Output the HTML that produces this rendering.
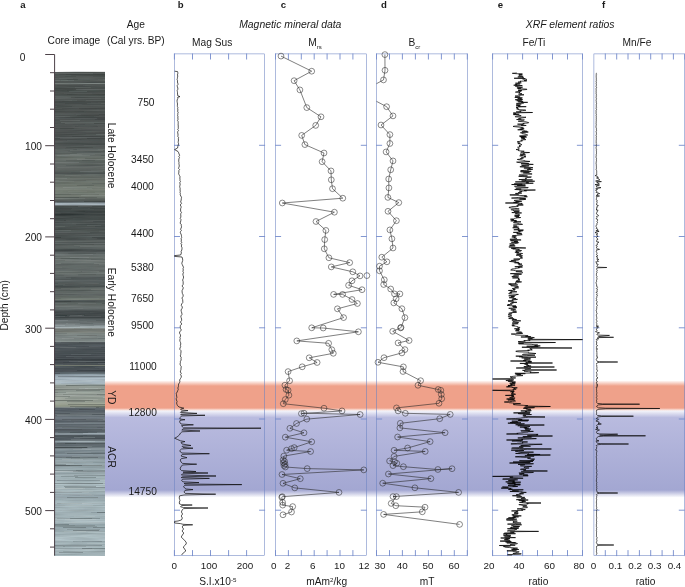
<!DOCTYPE html>
<html><head><meta charset="utf-8"><title>Figure</title>
<style>
html,body{margin:0;padding:0;background:#fff;}
body{width:685px;height:587px;overflow:hidden;}
svg{display:block;will-change:transform;}
text{font-family:"Liberation Sans",sans-serif;fill:#1a1a1a;}
</style></head><body>
<svg width="685" height="587" viewBox="0 0 685 587">
<defs>
<linearGradient id="gred" x1="0" y1="0" x2="0" y2="1">
<stop offset="0" stop-color="#efa18a" stop-opacity="0"/>
<stop offset="0.183" stop-color="#efa18a" stop-opacity="1"/>
<stop offset="0.902" stop-color="#efa18a" stop-opacity="1"/>
<stop offset="1" stop-color="#efa18a" stop-opacity="0"/>
</linearGradient>
<linearGradient id="gblue" x1="0" y1="0" x2="0" y2="1">
<stop offset="0" stop-color="#b9bbdf" stop-opacity="0"/>
<stop offset="0.090" stop-color="#b9bbdf" stop-opacity="1"/>
<stop offset="0.914" stop-color="#a3a7d2" stop-opacity="1"/>
<stop offset="1" stop-color="#a3a7d2" stop-opacity="0"/>
</linearGradient>
<filter id="streak" x="0" y="0" width="100%" height="100%">
<feTurbulence type="fractalNoise" baseFrequency="0.03 0.9" numOctaves="2" seed="3" result="n"/>
<feColorMatrix in="n" type="matrix" values="0 0 0 0 0  0 0 0 0 0  0 0 0 0 0  1.2 0 0 0 -0.35" result="a"/>
<feFlood flood-color="#20282a"/><feComposite in2="a" operator="in"/>
</filter>
<filter id="streakL" x="0" y="0" width="100%" height="100%">
<feTurbulence type="fractalNoise" baseFrequency="0.025 0.8" numOctaves="2" seed="11" result="n"/>
<feColorMatrix in="n" type="matrix" values="0 0 0 0 0  0 0 0 0 0  0 0 0 0 0  0 1.2 0 0 -0.4" result="a"/>
<feFlood flood-color="#c8d4d4"/><feComposite in2="a" operator="in"/>
</filter>
<clipPath id="cpd"><rect x="376.5" y="53.9" width="91.1" height="501.80000000000007"/></clipPath>
<clipPath id="cpe"><rect x="492.6" y="53.9" width="89.9" height="501.80000000000007"/></clipPath>
<clipPath id="cpb"><rect x="174.4" y="53.9" width="90.3" height="501.80000000000007"/></clipPath>
</defs>
<rect width="685" height="587" fill="#fff"/>

<rect x="104.6" y="380.4" width="580.4" height="30.6" fill="url(#gred)"/>
<rect x="104.6" y="409.6" width="580.4" height="88" fill="url(#gblue)"/>
<g shape-rendering="crispEdges">
<rect x="54.2" y="71.8" width="50.5" height="0.25" fill="#4c514f"/>
<rect x="54.2" y="72.0" width="50.5" height="1.05" fill="#4f5452"/>
<rect x="54.2" y="73.0" width="50.5" height="1.05" fill="#4d5250"/>
<rect x="54.2" y="74.0" width="50.5" height="1.05" fill="#4d5250"/>
<rect x="54.2" y="75.0" width="50.5" height="1.05" fill="#4b514e"/>
<rect x="54.2" y="76.0" width="50.5" height="1.05" fill="#4e5351"/>
<rect x="54.2" y="77.0" width="50.5" height="1.05" fill="#525855"/>
<rect x="54.2" y="78.0" width="50.5" height="1.05" fill="#505553"/>
<rect x="54.2" y="79.0" width="50.5" height="1.05" fill="#515755"/>
<rect x="54.2" y="80.0" width="50.5" height="1.05" fill="#4e5451"/>
<rect x="54.2" y="81.0" width="50.5" height="1.05" fill="#4f5452"/>
<rect x="54.2" y="82.0" width="50.5" height="1.05" fill="#4d5351"/>
<rect x="54.2" y="83.0" width="50.5" height="1.05" fill="#7b837f"/>
<rect x="54.2" y="84.0" width="50.5" height="1.05" fill="#505553"/>
<rect x="54.2" y="85.0" width="50.5" height="1.05" fill="#4e5351"/>
<rect x="54.2" y="86.0" width="50.5" height="1.05" fill="#4d5250"/>
<rect x="54.2" y="87.0" width="50.5" height="1.05" fill="#444a48"/>
<rect x="54.2" y="88.0" width="50.5" height="1.05" fill="#444947"/>
<rect x="54.2" y="89.0" width="50.5" height="1.05" fill="#464b49"/>
<rect x="54.2" y="90.0" width="50.5" height="1.05" fill="#474d4a"/>
<rect x="54.2" y="91.0" width="50.5" height="1.05" fill="#4a504e"/>
<rect x="54.2" y="92.0" width="50.5" height="1.05" fill="#4a4f4d"/>
<rect x="54.2" y="93.0" width="50.5" height="1.05" fill="#4c514f"/>
<rect x="54.2" y="94.0" width="50.5" height="1.05" fill="#484e4b"/>
<rect x="54.2" y="95.0" width="50.5" height="1.05" fill="#4c514f"/>
<rect x="54.2" y="96.0" width="50.5" height="1.05" fill="#545b58"/>
<rect x="54.2" y="97.0" width="50.5" height="1.05" fill="#484e4c"/>
<rect x="54.2" y="98.0" width="50.5" height="1.05" fill="#515654"/>
<rect x="54.2" y="99.0" width="50.5" height="1.05" fill="#4d5250"/>
<rect x="54.2" y="100.0" width="50.5" height="1.05" fill="#4f5452"/>
<rect x="54.2" y="101.0" width="50.5" height="1.05" fill="#494e4c"/>
<rect x="54.2" y="102.0" width="50.5" height="1.05" fill="#484d4b"/>
<rect x="54.2" y="103.0" width="50.5" height="1.05" fill="#4a4f4d"/>
<rect x="54.2" y="104.0" width="50.5" height="1.05" fill="#4a4f4e"/>
<rect x="54.2" y="105.0" width="50.5" height="1.05" fill="#4d5250"/>
<rect x="54.2" y="106.0" width="50.5" height="1.05" fill="#4c514f"/>
<rect x="54.2" y="107.0" width="50.5" height="1.05" fill="#494e4c"/>
<rect x="54.2" y="108.0" width="50.5" height="1.05" fill="#474c4a"/>
<rect x="54.2" y="109.0" width="50.5" height="1.05" fill="#494e4c"/>
<rect x="54.2" y="110.0" width="50.5" height="1.05" fill="#4f5452"/>
<rect x="54.2" y="111.0" width="50.5" height="1.05" fill="#484d4b"/>
<rect x="54.2" y="112.0" width="50.5" height="1.05" fill="#4c514f"/>
<rect x="54.2" y="113.0" width="50.5" height="1.05" fill="#4d5150"/>
<rect x="54.2" y="114.0" width="50.5" height="1.05" fill="#464b49"/>
<rect x="54.2" y="115.0" width="50.5" height="1.05" fill="#4c504f"/>
<rect x="54.2" y="116.0" width="50.5" height="1.05" fill="#505553"/>
<rect x="54.2" y="117.0" width="50.5" height="1.05" fill="#444948"/>
<rect x="54.2" y="118.0" width="50.5" height="1.05" fill="#4b4f4e"/>
<rect x="54.2" y="119.0" width="50.5" height="1.05" fill="#4c504f"/>
<rect x="54.2" y="120.0" width="50.5" height="1.05" fill="#494e4c"/>
<rect x="54.2" y="121.0" width="50.5" height="1.05" fill="#4e5351"/>
<rect x="54.2" y="122.0" width="50.5" height="1.05" fill="#4c514f"/>
<rect x="54.2" y="123.0" width="50.5" height="1.05" fill="#474c4a"/>
<rect x="54.2" y="124.0" width="50.5" height="1.05" fill="#505453"/>
<rect x="54.2" y="125.0" width="50.5" height="1.05" fill="#4f5452"/>
<rect x="54.2" y="126.0" width="50.5" height="1.05" fill="#515554"/>
<rect x="54.2" y="127.0" width="50.5" height="1.05" fill="#535756"/>
<rect x="54.2" y="128.0" width="50.5" height="1.05" fill="#4f5452"/>
<rect x="54.2" y="129.0" width="50.5" height="1.05" fill="#4f5352"/>
<rect x="54.2" y="130.0" width="50.5" height="1.05" fill="#4a4e4d"/>
<rect x="54.2" y="131.0" width="50.5" height="1.05" fill="#515654"/>
<rect x="54.2" y="132.0" width="50.5" height="1.05" fill="#4d5150"/>
<rect x="54.2" y="133.0" width="50.5" height="1.05" fill="#4e5251"/>
<rect x="54.2" y="134.0" width="50.5" height="1.05" fill="#4b504e"/>
<rect x="54.2" y="135.0" width="50.5" height="1.05" fill="#4b504f"/>
<rect x="54.2" y="136.0" width="50.5" height="1.05" fill="#4b504f"/>
<rect x="54.2" y="137.0" width="50.5" height="1.05" fill="#505554"/>
<rect x="54.2" y="138.0" width="50.5" height="1.05" fill="#434847"/>
<rect x="54.2" y="139.0" width="50.5" height="1.05" fill="#434847"/>
<rect x="54.2" y="140.0" width="50.5" height="1.05" fill="#4a4e4d"/>
<rect x="54.2" y="141.0" width="50.5" height="1.05" fill="#505554"/>
<rect x="54.2" y="142.0" width="50.5" height="1.05" fill="#4e5352"/>
<rect x="54.2" y="143.0" width="50.5" height="1.05" fill="#474d4b"/>
<rect x="54.2" y="144.0" width="50.5" height="1.05" fill="#474c4b"/>
<rect x="54.2" y="145.0" width="50.5" height="1.05" fill="#535857"/>
<rect x="54.2" y="146.0" width="50.5" height="1.05" fill="#505654"/>
<rect x="54.2" y="147.0" width="50.5" height="1.05" fill="#505654"/>
<rect x="54.2" y="148.0" width="50.5" height="1.05" fill="#595f5d"/>
<rect x="54.2" y="149.0" width="50.5" height="1.05" fill="#5b615f"/>
<rect x="54.2" y="150.0" width="50.5" height="1.05" fill="#595f5c"/>
<rect x="54.2" y="151.0" width="50.5" height="1.05" fill="#5a605e"/>
<rect x="54.2" y="152.0" width="50.5" height="1.05" fill="#5d6360"/>
<rect x="54.2" y="153.0" width="50.5" height="1.05" fill="#636a67"/>
<rect x="54.2" y="154.0" width="50.5" height="1.05" fill="#626965"/>
<rect x="54.2" y="155.0" width="50.5" height="1.05" fill="#646b67"/>
<rect x="54.2" y="156.0" width="50.5" height="1.05" fill="#676e69"/>
<rect x="54.2" y="157.0" width="50.5" height="1.05" fill="#626963"/>
<rect x="54.2" y="158.0" width="50.5" height="1.05" fill="#6c736d"/>
<rect x="54.2" y="159.0" width="50.5" height="1.05" fill="#6a706b"/>
<rect x="54.2" y="160.0" width="50.5" height="1.05" fill="#666d68"/>
<rect x="54.2" y="161.0" width="50.5" height="1.05" fill="#5b625e"/>
<rect x="54.2" y="162.0" width="50.5" height="1.05" fill="#5e6561"/>
<rect x="54.2" y="163.0" width="50.5" height="1.05" fill="#636966"/>
<rect x="54.2" y="164.0" width="50.5" height="1.05" fill="#585f5b"/>
<rect x="54.2" y="165.0" width="50.5" height="1.05" fill="#5d6461"/>
<rect x="54.2" y="166.0" width="50.5" height="1.05" fill="#616764"/>
<rect x="54.2" y="167.0" width="50.5" height="1.05" fill="#585e5b"/>
<rect x="54.2" y="168.0" width="50.5" height="1.05" fill="#626865"/>
<rect x="54.2" y="169.0" width="50.5" height="1.05" fill="#5d6360"/>
<rect x="54.2" y="170.0" width="50.5" height="1.05" fill="#585e5b"/>
<rect x="54.2" y="171.0" width="50.5" height="1.05" fill="#555c59"/>
<rect x="54.2" y="172.0" width="50.5" height="1.05" fill="#525856"/>
<rect x="54.2" y="173.0" width="50.5" height="1.05" fill="#4c5251"/>
<rect x="54.2" y="174.0" width="50.5" height="1.05" fill="#5e6561"/>
<rect x="54.2" y="175.0" width="50.5" height="1.05" fill="#616762"/>
<rect x="54.2" y="176.0" width="50.5" height="1.05" fill="#636964"/>
<rect x="54.2" y="177.0" width="50.5" height="1.05" fill="#69706a"/>
<rect x="54.2" y="178.0" width="50.5" height="1.05" fill="#676d67"/>
<rect x="54.2" y="179.0" width="50.5" height="1.05" fill="#656b65"/>
<rect x="54.2" y="180.0" width="50.5" height="1.05" fill="#6c736c"/>
<rect x="54.2" y="181.0" width="50.5" height="1.05" fill="#6f766f"/>
<rect x="54.2" y="182.0" width="50.5" height="1.05" fill="#6a7169"/>
<rect x="54.2" y="183.0" width="50.5" height="1.05" fill="#686f67"/>
<rect x="54.2" y="184.0" width="50.5" height="1.05" fill="#6e756d"/>
<rect x="54.2" y="185.0" width="50.5" height="1.05" fill="#70776e"/>
<rect x="54.2" y="186.0" width="50.5" height="1.05" fill="#71786f"/>
<rect x="54.2" y="187.0" width="50.5" height="1.05" fill="#787f76"/>
<rect x="54.2" y="188.0" width="50.5" height="1.05" fill="#71786f"/>
<rect x="54.2" y="189.0" width="50.5" height="1.05" fill="#7b8278"/>
<rect x="54.2" y="190.0" width="50.5" height="1.05" fill="#72796f"/>
<rect x="54.2" y="191.0" width="50.5" height="1.05" fill="#737b71"/>
<rect x="54.2" y="192.0" width="50.5" height="1.05" fill="#787f75"/>
<rect x="54.2" y="193.0" width="50.5" height="1.05" fill="#798077"/>
<rect x="54.2" y="194.0" width="50.5" height="1.05" fill="#777e75"/>
<rect x="54.2" y="195.0" width="50.5" height="1.05" fill="#757c73"/>
<rect x="54.2" y="196.0" width="50.5" height="1.05" fill="#737a72"/>
<rect x="54.2" y="197.0" width="50.5" height="1.05" fill="#6e756e"/>
<rect x="54.2" y="198.0" width="50.5" height="1.05" fill="#676d68"/>
<rect x="54.2" y="199.0" width="50.5" height="1.05" fill="#5b615d"/>
<rect x="54.2" y="200.0" width="50.5" height="1.05" fill="#515754"/>
<rect x="54.2" y="201.0" width="50.5" height="1.05" fill="#434948"/>
<rect x="54.2" y="202.0" width="50.5" height="1.05" fill="#768085"/>
<rect x="54.2" y="203.0" width="50.5" height="1.05" fill="#a6b3bc"/>
<rect x="54.2" y="204.0" width="50.5" height="1.05" fill="#adbac3"/>
<rect x="54.2" y="205.0" width="50.5" height="1.05" fill="#6e7678"/>
<rect x="54.2" y="206.0" width="50.5" height="1.05" fill="#474d4c"/>
<rect x="54.2" y="207.0" width="50.5" height="1.05" fill="#404746"/>
<rect x="54.2" y="208.0" width="50.5" height="1.05" fill="#3e4544"/>
<rect x="54.2" y="209.0" width="50.5" height="1.05" fill="#3f4544"/>
<rect x="54.2" y="210.0" width="50.5" height="1.05" fill="#424847"/>
<rect x="54.2" y="211.0" width="50.5" height="1.05" fill="#3c4342"/>
<rect x="54.2" y="212.0" width="50.5" height="1.05" fill="#3e4544"/>
<rect x="54.2" y="213.0" width="50.5" height="1.05" fill="#434948"/>
<rect x="54.2" y="214.0" width="50.5" height="1.05" fill="#323838"/>
<rect x="54.2" y="215.0" width="50.5" height="1.05" fill="#383e3d"/>
<rect x="54.2" y="216.0" width="50.5" height="1.05" fill="#3f4544"/>
<rect x="54.2" y="217.0" width="50.5" height="1.05" fill="#414746"/>
<rect x="54.2" y="218.0" width="50.5" height="1.05" fill="#424847"/>
<rect x="54.2" y="219.0" width="50.5" height="1.05" fill="#414847"/>
<rect x="54.2" y="220.0" width="50.5" height="1.05" fill="#474d4c"/>
<rect x="54.2" y="221.0" width="50.5" height="1.05" fill="#474d4d"/>
<rect x="54.2" y="222.0" width="50.5" height="1.05" fill="#464c4b"/>
<rect x="54.2" y="223.0" width="50.5" height="1.05" fill="#525857"/>
<rect x="54.2" y="224.0" width="50.5" height="1.05" fill="#4b5251"/>
<rect x="54.2" y="225.0" width="50.5" height="1.05" fill="#49504f"/>
<rect x="54.2" y="226.0" width="50.5" height="1.05" fill="#4c5351"/>
<rect x="54.2" y="227.0" width="50.5" height="1.05" fill="#4d5352"/>
<rect x="54.2" y="228.0" width="50.5" height="1.05" fill="#4f5554"/>
<rect x="54.2" y="229.0" width="50.5" height="1.05" fill="#474d4b"/>
<rect x="54.2" y="230.0" width="50.5" height="1.05" fill="#4f5553"/>
<rect x="54.2" y="231.0" width="50.5" height="1.05" fill="#525957"/>
<rect x="54.2" y="232.0" width="50.5" height="1.05" fill="#494f4e"/>
<rect x="54.2" y="233.0" width="50.5" height="1.05" fill="#4c5251"/>
<rect x="54.2" y="234.0" width="50.5" height="1.05" fill="#4e5453"/>
<rect x="54.2" y="235.0" width="50.5" height="1.05" fill="#4c5251"/>
<rect x="54.2" y="236.0" width="50.5" height="1.05" fill="#4b5251"/>
<rect x="54.2" y="237.0" width="50.5" height="1.05" fill="#3c4241"/>
<rect x="54.2" y="238.0" width="50.5" height="1.05" fill="#434948"/>
<rect x="54.2" y="239.0" width="50.5" height="1.05" fill="#4b5150"/>
<rect x="54.2" y="240.0" width="50.5" height="1.05" fill="#565d5b"/>
<rect x="54.2" y="241.0" width="50.5" height="1.05" fill="#5d6361"/>
<rect x="54.2" y="242.0" width="50.5" height="1.05" fill="#505755"/>
<rect x="54.2" y="243.0" width="50.5" height="1.05" fill="#5f6564"/>
<rect x="54.2" y="244.0" width="50.5" height="1.05" fill="#575e5c"/>
<rect x="54.2" y="245.0" width="50.5" height="1.05" fill="#606764"/>
<rect x="54.2" y="246.0" width="50.5" height="1.05" fill="#59605e"/>
<rect x="54.2" y="247.0" width="50.5" height="1.05" fill="#5b6260"/>
<rect x="54.2" y="248.0" width="50.5" height="1.05" fill="#555c5a"/>
<rect x="54.2" y="249.0" width="50.5" height="1.05" fill="#464d4c"/>
<rect x="54.2" y="250.0" width="50.5" height="1.05" fill="#3e4444"/>
<rect x="54.2" y="251.0" width="50.5" height="1.05" fill="#4d5353"/>
<rect x="54.2" y="252.0" width="50.5" height="1.05" fill="#575e5e"/>
<rect x="54.2" y="253.0" width="50.5" height="1.05" fill="#5b6261"/>
<rect x="54.2" y="254.0" width="50.5" height="1.05" fill="#656c6b"/>
<rect x="54.2" y="255.0" width="50.5" height="1.05" fill="#686f6d"/>
<rect x="54.2" y="256.0" width="50.5" height="1.05" fill="#666d6a"/>
<rect x="54.2" y="257.0" width="50.5" height="1.05" fill="#727976"/>
<rect x="54.2" y="258.0" width="50.5" height="1.05" fill="#656c69"/>
<rect x="54.2" y="259.0" width="50.5" height="1.05" fill="#6d7472"/>
<rect x="54.2" y="260.0" width="50.5" height="1.05" fill="#6a716e"/>
<rect x="54.2" y="261.0" width="50.5" height="1.05" fill="#6d7471"/>
<rect x="54.2" y="262.0" width="50.5" height="1.05" fill="#6f7673"/>
<rect x="54.2" y="263.0" width="50.5" height="1.05" fill="#6c7370"/>
<rect x="54.2" y="264.0" width="50.5" height="1.05" fill="#6c7370"/>
<rect x="54.2" y="265.0" width="50.5" height="1.05" fill="#626967"/>
<rect x="54.2" y="266.0" width="50.5" height="1.05" fill="#616865"/>
<rect x="54.2" y="267.0" width="50.5" height="1.05" fill="#676e6c"/>
<rect x="54.2" y="268.0" width="50.5" height="1.05" fill="#616866"/>
<rect x="54.2" y="269.0" width="50.5" height="1.05" fill="#616866"/>
<rect x="54.2" y="270.0" width="50.5" height="1.05" fill="#606765"/>
<rect x="54.2" y="271.0" width="50.5" height="1.05" fill="#6b726f"/>
<rect x="54.2" y="272.0" width="50.5" height="1.05" fill="#6a716e"/>
<rect x="54.2" y="273.0" width="50.5" height="1.05" fill="#6d7471"/>
<rect x="54.2" y="274.0" width="50.5" height="1.05" fill="#626967"/>
<rect x="54.2" y="275.0" width="50.5" height="1.05" fill="#616866"/>
<rect x="54.2" y="276.0" width="50.5" height="1.05" fill="#59605f"/>
<rect x="54.2" y="277.0" width="50.5" height="1.05" fill="#5b6262"/>
<rect x="54.2" y="278.0" width="50.5" height="1.05" fill="#5c6363"/>
<rect x="54.2" y="279.0" width="50.5" height="1.05" fill="#525959"/>
<rect x="54.2" y="280.0" width="50.5" height="1.05" fill="#5b6262"/>
<rect x="54.2" y="281.0" width="50.5" height="1.05" fill="#585f5f"/>
<rect x="54.2" y="282.0" width="50.5" height="1.05" fill="#545b5a"/>
<rect x="54.2" y="283.0" width="50.5" height="1.05" fill="#4d5453"/>
<rect x="54.2" y="284.0" width="50.5" height="1.05" fill="#59605f"/>
<rect x="54.2" y="285.0" width="50.5" height="1.05" fill="#4f5655"/>
<rect x="54.2" y="286.0" width="50.5" height="1.05" fill="#444b4b"/>
<rect x="54.2" y="287.0" width="50.5" height="1.05" fill="#505755"/>
<rect x="54.2" y="288.0" width="50.5" height="1.05" fill="#585f5c"/>
<rect x="54.2" y="289.0" width="50.5" height="1.05" fill="#606764"/>
<rect x="54.2" y="290.0" width="50.5" height="1.05" fill="#575e5b"/>
<rect x="54.2" y="291.0" width="50.5" height="1.05" fill="#5f6663"/>
<rect x="54.2" y="292.0" width="50.5" height="1.05" fill="#616865"/>
<rect x="54.2" y="293.0" width="50.5" height="1.05" fill="#616865"/>
<rect x="54.2" y="294.0" width="50.5" height="1.05" fill="#5b6260"/>
<rect x="54.2" y="295.0" width="50.5" height="1.05" fill="#5c6360"/>
<rect x="54.2" y="296.0" width="50.5" height="1.05" fill="#676e69"/>
<rect x="54.2" y="297.0" width="50.5" height="1.05" fill="#686f6a"/>
<rect x="54.2" y="298.0" width="50.5" height="1.05" fill="#6c746d"/>
<rect x="54.2" y="299.0" width="50.5" height="1.05" fill="#767d75"/>
<rect x="54.2" y="300.0" width="50.5" height="1.05" fill="#555c5c"/>
<rect x="54.2" y="301.0" width="50.5" height="1.05" fill="#4f5655"/>
<rect x="54.2" y="302.0" width="50.5" height="1.05" fill="#575e5c"/>
<rect x="54.2" y="303.0" width="50.5" height="1.05" fill="#535a57"/>
<rect x="54.2" y="304.0" width="50.5" height="1.05" fill="#606764"/>
<rect x="54.2" y="305.0" width="50.5" height="1.05" fill="#656c69"/>
<rect x="54.2" y="306.0" width="50.5" height="1.05" fill="#686f6d"/>
<rect x="54.2" y="307.0" width="50.5" height="1.05" fill="#69706f"/>
<rect x="54.2" y="308.0" width="50.5" height="1.05" fill="#656c6b"/>
<rect x="54.2" y="309.0" width="50.5" height="1.05" fill="#5b6262"/>
<rect x="54.2" y="310.0" width="50.5" height="1.05" fill="#4e5455"/>
<rect x="54.2" y="311.0" width="50.5" height="1.05" fill="#404647"/>
<rect x="54.2" y="312.0" width="50.5" height="1.05" fill="#43494a"/>
<rect x="54.2" y="313.0" width="50.5" height="1.05" fill="#43494b"/>
<rect x="54.2" y="314.0" width="50.5" height="1.05" fill="#43494a"/>
<rect x="54.2" y="315.0" width="50.5" height="1.05" fill="#394041"/>
<rect x="54.2" y="316.0" width="50.5" height="1.05" fill="#42484a"/>
<rect x="54.2" y="317.0" width="50.5" height="1.05" fill="#3f4647"/>
<rect x="54.2" y="318.0" width="50.5" height="1.05" fill="#495051"/>
<rect x="54.2" y="319.0" width="50.5" height="1.05" fill="#585f61"/>
<rect x="54.2" y="320.0" width="50.5" height="1.05" fill="#6d7476"/>
<rect x="54.2" y="321.0" width="50.5" height="1.05" fill="#676e6f"/>
<rect x="54.2" y="322.0" width="50.5" height="1.05" fill="#6d7475"/>
<rect x="54.2" y="323.0" width="50.5" height="1.05" fill="#6e7576"/>
<rect x="54.2" y="324.0" width="50.5" height="1.05" fill="#798183"/>
<rect x="54.2" y="325.0" width="50.5" height="1.05" fill="#8a9496"/>
<rect x="54.2" y="326.0" width="50.5" height="1.05" fill="#9ba5a9"/>
<rect x="54.2" y="327.0" width="50.5" height="1.05" fill="#a9b4b7"/>
<rect x="54.2" y="328.0" width="50.5" height="1.05" fill="#838a87"/>
<rect x="54.2" y="329.0" width="50.5" height="1.05" fill="#737772"/>
<rect x="54.2" y="330.0" width="50.5" height="1.05" fill="#70746e"/>
<rect x="54.2" y="331.0" width="50.5" height="1.05" fill="#737771"/>
<rect x="54.2" y="332.0" width="50.5" height="1.05" fill="#818781"/>
<rect x="54.2" y="333.0" width="50.5" height="1.05" fill="#838b87"/>
<rect x="54.2" y="334.0" width="50.5" height="1.05" fill="#808986"/>
<rect x="54.2" y="335.0" width="50.5" height="1.05" fill="#78807e"/>
<rect x="54.2" y="336.0" width="50.5" height="1.05" fill="#7d8684"/>
<rect x="54.2" y="337.0" width="50.5" height="1.05" fill="#848d8b"/>
<rect x="54.2" y="338.0" width="50.5" height="1.05" fill="#848c8b"/>
<rect x="54.2" y="339.0" width="50.5" height="1.05" fill="#7f8886"/>
<rect x="54.2" y="340.0" width="50.5" height="1.05" fill="#808987"/>
<rect x="54.2" y="341.0" width="50.5" height="1.05" fill="#8a9391"/>
<rect x="54.2" y="342.0" width="50.5" height="1.05" fill="#4f5458"/>
<rect x="54.2" y="343.0" width="50.5" height="1.05" fill="#4a5155"/>
<rect x="54.2" y="344.0" width="50.5" height="1.05" fill="#4b5256"/>
<rect x="54.2" y="345.0" width="50.5" height="1.05" fill="#4f565b"/>
<rect x="54.2" y="346.0" width="50.5" height="1.05" fill="#495055"/>
<rect x="54.2" y="347.0" width="50.5" height="1.05" fill="#484f53"/>
<rect x="54.2" y="348.0" width="50.5" height="1.05" fill="#484f54"/>
<rect x="54.2" y="349.0" width="50.5" height="1.05" fill="#454c51"/>
<rect x="54.2" y="350.0" width="50.5" height="1.05" fill="#4a5155"/>
<rect x="54.2" y="351.0" width="50.5" height="1.05" fill="#464d51"/>
<rect x="54.2" y="352.0" width="50.5" height="1.05" fill="#4b5256"/>
<rect x="54.2" y="353.0" width="50.5" height="1.05" fill="#40474b"/>
<rect x="54.2" y="354.0" width="50.5" height="1.05" fill="#484f54"/>
<rect x="54.2" y="355.0" width="50.5" height="1.05" fill="#444a4f"/>
<rect x="54.2" y="356.0" width="50.5" height="1.05" fill="#3e4549"/>
<rect x="54.2" y="357.0" width="50.5" height="1.05" fill="#474d52"/>
<rect x="54.2" y="358.0" width="50.5" height="1.05" fill="#40474b"/>
<rect x="54.2" y="359.0" width="50.5" height="1.05" fill="#353b3f"/>
<rect x="54.2" y="360.0" width="50.5" height="1.05" fill="#3a4044"/>
<rect x="54.2" y="361.0" width="50.5" height="1.05" fill="#444a4f"/>
<rect x="54.2" y="362.0" width="50.5" height="1.05" fill="#454b50"/>
<rect x="54.2" y="363.0" width="50.5" height="1.05" fill="#4b5155"/>
<rect x="54.2" y="364.0" width="50.5" height="1.05" fill="#4c5256"/>
<rect x="54.2" y="365.0" width="50.5" height="1.05" fill="#777c71"/>
<rect x="54.2" y="366.0" width="50.5" height="1.05" fill="#4a5257"/>
<rect x="54.2" y="367.0" width="50.5" height="1.05" fill="#4d5459"/>
<rect x="54.2" y="368.0" width="50.5" height="1.05" fill="#495055"/>
<rect x="54.2" y="369.0" width="50.5" height="1.05" fill="#474e53"/>
<rect x="54.2" y="370.0" width="50.5" height="1.05" fill="#3d4349"/>
<rect x="54.2" y="371.0" width="50.5" height="1.05" fill="#4d5459"/>
<rect x="54.2" y="372.0" width="50.5" height="1.05" fill="#586269"/>
<rect x="54.2" y="373.0" width="50.5" height="1.05" fill="#5e6a70"/>
<rect x="54.2" y="374.0" width="50.5" height="1.05" fill="#8d9ca6"/>
<rect x="54.2" y="375.0" width="50.5" height="1.05" fill="#9faeb8"/>
<rect x="54.2" y="376.0" width="50.5" height="1.05" fill="#9baab5"/>
<rect x="54.2" y="377.0" width="50.5" height="1.05" fill="#a7b7c1"/>
<rect x="54.2" y="378.0" width="50.5" height="1.05" fill="#b3c2cc"/>
<rect x="54.2" y="379.0" width="50.5" height="1.05" fill="#a9b9c3"/>
<rect x="54.2" y="380.0" width="50.5" height="1.05" fill="#b0bfc9"/>
<rect x="54.2" y="381.0" width="50.5" height="1.05" fill="#b4c4ce"/>
<rect x="54.2" y="382.0" width="50.5" height="1.05" fill="#aebdc7"/>
<rect x="54.2" y="383.0" width="50.5" height="1.05" fill="#adbcc4"/>
<rect x="54.2" y="384.0" width="50.5" height="1.05" fill="#a4b0b1"/>
<rect x="54.2" y="385.0" width="50.5" height="1.05" fill="#96a09b"/>
<rect x="54.2" y="386.0" width="50.5" height="1.05" fill="#969e97"/>
<rect x="54.2" y="387.0" width="50.5" height="1.05" fill="#969e97"/>
<rect x="54.2" y="388.0" width="50.5" height="1.05" fill="#98a099"/>
<rect x="54.2" y="389.0" width="50.5" height="1.05" fill="#949c95"/>
<rect x="54.2" y="390.0" width="50.5" height="1.05" fill="#929b94"/>
<rect x="54.2" y="391.0" width="50.5" height="1.05" fill="#919a93"/>
<rect x="54.2" y="392.0" width="50.5" height="1.05" fill="#99a199"/>
<rect x="54.2" y="393.0" width="50.5" height="1.05" fill="#a0a8a0"/>
<rect x="54.2" y="394.0" width="50.5" height="1.05" fill="#9ea69e"/>
<rect x="54.2" y="395.0" width="50.5" height="1.05" fill="#9ca39b"/>
<rect x="54.2" y="396.0" width="50.5" height="1.05" fill="#9da49b"/>
<rect x="54.2" y="397.0" width="50.5" height="1.05" fill="#a8b0a6"/>
<rect x="54.2" y="398.0" width="50.5" height="1.05" fill="#a0a79d"/>
<rect x="54.2" y="399.0" width="50.5" height="1.05" fill="#9ba298"/>
<rect x="54.2" y="400.0" width="50.5" height="1.05" fill="#91988d"/>
<rect x="54.2" y="401.0" width="50.5" height="1.05" fill="#9ea599"/>
<rect x="54.2" y="402.0" width="50.5" height="1.05" fill="#9fa699"/>
<rect x="54.2" y="403.0" width="50.5" height="1.05" fill="#a3aa9b"/>
<rect x="54.2" y="404.0" width="50.5" height="1.05" fill="#9ca392"/>
<rect x="54.2" y="405.0" width="50.5" height="1.05" fill="#989e8c"/>
<rect x="54.2" y="406.0" width="50.5" height="1.05" fill="#8c9385"/>
<rect x="54.2" y="407.0" width="50.5" height="1.05" fill="#68706e"/>
<rect x="54.2" y="408.0" width="50.5" height="1.05" fill="#5b646b"/>
<rect x="54.2" y="409.0" width="50.5" height="1.05" fill="#596169"/>
<rect x="54.2" y="410.0" width="50.5" height="1.05" fill="#555e65"/>
<rect x="54.2" y="411.0" width="50.5" height="1.05" fill="#5d656c"/>
<rect x="54.2" y="412.0" width="50.5" height="1.05" fill="#5f686e"/>
<rect x="54.2" y="413.0" width="50.5" height="1.05" fill="#555d63"/>
<rect x="54.2" y="414.0" width="50.5" height="1.05" fill="#586167"/>
<rect x="54.2" y="415.0" width="50.5" height="1.05" fill="#5d656c"/>
<rect x="54.2" y="416.0" width="50.5" height="1.05" fill="#656e75"/>
<rect x="54.2" y="417.0" width="50.5" height="1.05" fill="#737d85"/>
<rect x="54.2" y="418.0" width="50.5" height="1.05" fill="#707981"/>
<rect x="54.2" y="419.0" width="50.5" height="1.05" fill="#687078"/>
<rect x="54.2" y="420.0" width="50.5" height="1.05" fill="#626a71"/>
<rect x="54.2" y="421.0" width="50.5" height="1.05" fill="#586067"/>
<rect x="54.2" y="422.0" width="50.5" height="1.05" fill="#646e75"/>
<rect x="54.2" y="423.0" width="50.5" height="1.05" fill="#747e85"/>
<rect x="54.2" y="424.0" width="50.5" height="1.05" fill="#5f686f"/>
<rect x="54.2" y="425.0" width="50.5" height="1.05" fill="#636c73"/>
<rect x="54.2" y="426.0" width="50.5" height="1.05" fill="#616a71"/>
<rect x="54.2" y="427.0" width="50.5" height="1.05" fill="#606970"/>
<rect x="54.2" y="428.0" width="50.5" height="1.05" fill="#6d767e"/>
<rect x="54.2" y="429.0" width="50.5" height="1.05" fill="#606970"/>
<rect x="54.2" y="430.0" width="50.5" height="1.05" fill="#545c62"/>
<rect x="54.2" y="431.0" width="50.5" height="1.05" fill="#586168"/>
<rect x="54.2" y="432.0" width="50.5" height="1.05" fill="#707a81"/>
<rect x="54.2" y="433.0" width="50.5" height="1.05" fill="#9facb4"/>
<rect x="54.2" y="434.0" width="50.5" height="1.05" fill="#848f97"/>
<rect x="54.2" y="435.0" width="50.5" height="1.05" fill="#535c62"/>
<rect x="54.2" y="436.0" width="50.5" height="1.05" fill="#525a60"/>
<rect x="54.2" y="437.0" width="50.5" height="1.05" fill="#515a60"/>
<rect x="54.2" y="438.0" width="50.5" height="1.05" fill="#515960"/>
<rect x="54.2" y="439.0" width="50.5" height="1.05" fill="#525b61"/>
<rect x="54.2" y="440.0" width="50.5" height="1.05" fill="#6c767c"/>
<rect x="54.2" y="441.0" width="50.5" height="1.05" fill="#98a6ad"/>
<rect x="54.2" y="442.0" width="50.5" height="1.05" fill="#7e8990"/>
<rect x="54.2" y="443.0" width="50.5" height="1.05" fill="#646e74"/>
<rect x="54.2" y="444.0" width="50.5" height="1.05" fill="#636d73"/>
<rect x="54.2" y="445.0" width="50.5" height="1.05" fill="#5f696f"/>
<rect x="54.2" y="446.0" width="50.5" height="1.05" fill="#646f75"/>
<rect x="54.2" y="447.0" width="50.5" height="1.05" fill="#717c82"/>
<rect x="54.2" y="448.0" width="50.5" height="1.05" fill="#879399"/>
<rect x="54.2" y="449.0" width="50.5" height="1.05" fill="#8c999f"/>
<rect x="54.2" y="450.0" width="50.5" height="1.05" fill="#7f8d94"/>
<rect x="54.2" y="451.0" width="50.5" height="1.05" fill="#7f8c93"/>
<rect x="54.2" y="452.0" width="50.5" height="1.05" fill="#7b888f"/>
<rect x="54.2" y="453.0" width="50.5" height="1.05" fill="#7b888f"/>
<rect x="54.2" y="454.0" width="50.5" height="1.05" fill="#829098"/>
<rect x="54.2" y="455.0" width="50.5" height="1.05" fill="#87949c"/>
<rect x="54.2" y="456.0" width="50.5" height="1.05" fill="#7c8990"/>
<rect x="54.2" y="457.0" width="50.5" height="1.05" fill="#7c8a90"/>
<rect x="54.2" y="458.0" width="50.5" height="1.05" fill="#909fa4"/>
<rect x="54.2" y="459.0" width="50.5" height="1.05" fill="#94a3a8"/>
<rect x="54.2" y="460.0" width="50.5" height="1.05" fill="#9cabb1"/>
<rect x="54.2" y="461.0" width="50.5" height="1.05" fill="#97a7ac"/>
<rect x="54.2" y="462.0" width="50.5" height="1.05" fill="#94a4a9"/>
<rect x="54.2" y="463.0" width="50.5" height="1.05" fill="#98a8ae"/>
<rect x="54.2" y="464.0" width="50.5" height="1.05" fill="#9eaeb3"/>
<rect x="54.2" y="465.0" width="50.5" height="1.05" fill="#93a2a7"/>
<rect x="54.2" y="466.0" width="50.5" height="1.05" fill="#909fa4"/>
<rect x="54.2" y="467.0" width="50.5" height="1.05" fill="#97a7ac"/>
<rect x="54.2" y="468.0" width="50.5" height="1.05" fill="#a1b1b7"/>
<rect x="54.2" y="469.0" width="50.5" height="1.05" fill="#a3b4b9"/>
<rect x="54.2" y="470.0" width="50.5" height="1.05" fill="#a1b1b6"/>
<rect x="54.2" y="471.0" width="50.5" height="1.05" fill="#a5b5ba"/>
<rect x="54.2" y="472.0" width="50.5" height="1.05" fill="#a1b1b6"/>
<rect x="54.2" y="473.0" width="50.5" height="1.05" fill="#9dadb2"/>
<rect x="54.2" y="474.0" width="50.5" height="1.05" fill="#a0b0b5"/>
<rect x="54.2" y="475.0" width="50.5" height="1.05" fill="#a7b7bc"/>
<rect x="54.2" y="476.0" width="50.5" height="1.05" fill="#a7b8bd"/>
<rect x="54.2" y="477.0" width="50.5" height="1.05" fill="#aabbc0"/>
<rect x="54.2" y="478.0" width="50.5" height="1.05" fill="#a5b6bb"/>
<rect x="54.2" y="479.0" width="50.5" height="1.05" fill="#a9babf"/>
<rect x="54.2" y="480.0" width="50.5" height="1.05" fill="#adbec4"/>
<rect x="54.2" y="481.0" width="50.5" height="1.05" fill="#abbcc1"/>
<rect x="54.2" y="482.0" width="50.5" height="1.05" fill="#b1c2c7"/>
<rect x="54.2" y="483.0" width="50.5" height="1.05" fill="#b0c1c6"/>
<rect x="54.2" y="484.0" width="50.5" height="1.05" fill="#b1c2c7"/>
<rect x="54.2" y="485.0" width="50.5" height="1.05" fill="#acbdc2"/>
<rect x="54.2" y="486.0" width="50.5" height="1.05" fill="#b4c5ca"/>
<rect x="54.2" y="487.0" width="50.5" height="1.05" fill="#aebfc4"/>
<rect x="54.2" y="488.0" width="50.5" height="1.05" fill="#a8b9be"/>
<rect x="54.2" y="489.0" width="50.5" height="1.05" fill="#a7b8bd"/>
<rect x="54.2" y="490.0" width="50.5" height="1.05" fill="#afc0c5"/>
<rect x="54.2" y="491.0" width="50.5" height="1.05" fill="#a3b3b9"/>
<rect x="54.2" y="492.0" width="50.5" height="1.05" fill="#a5b6bc"/>
<rect x="54.2" y="493.0" width="50.5" height="1.05" fill="#a4b5bb"/>
<rect x="54.2" y="494.0" width="50.5" height="1.05" fill="#9fafb6"/>
<rect x="54.2" y="495.0" width="50.5" height="1.05" fill="#99a9b0"/>
<rect x="54.2" y="496.0" width="50.5" height="1.05" fill="#9babb2"/>
<rect x="54.2" y="497.0" width="50.5" height="1.05" fill="#99a9b0"/>
<rect x="54.2" y="498.0" width="50.5" height="1.05" fill="#9dadb4"/>
<rect x="54.2" y="499.0" width="50.5" height="1.05" fill="#a1b2b8"/>
<rect x="54.2" y="500.0" width="50.5" height="1.05" fill="#a4b5ba"/>
<rect x="54.2" y="501.0" width="50.5" height="1.05" fill="#aabbc0"/>
<rect x="54.2" y="502.0" width="50.5" height="1.05" fill="#aabbc0"/>
<rect x="54.2" y="503.0" width="50.5" height="1.05" fill="#a9babf"/>
<rect x="54.2" y="504.0" width="50.5" height="1.05" fill="#a9bac0"/>
<rect x="54.2" y="505.0" width="50.5" height="1.05" fill="#a9babf"/>
<rect x="54.2" y="506.0" width="50.5" height="1.05" fill="#adbec4"/>
<rect x="54.2" y="507.0" width="50.5" height="1.05" fill="#a8b9be"/>
<rect x="54.2" y="508.0" width="50.5" height="1.05" fill="#aabbc0"/>
<rect x="54.2" y="509.0" width="50.5" height="1.05" fill="#abbcc2"/>
<rect x="54.2" y="510.0" width="50.5" height="1.05" fill="#a6b7bc"/>
<rect x="54.2" y="511.0" width="50.5" height="1.05" fill="#a9babf"/>
<rect x="54.2" y="512.0" width="50.5" height="1.05" fill="#a2b3b9"/>
<rect x="54.2" y="513.0" width="50.5" height="1.05" fill="#a7b8bd"/>
<rect x="54.2" y="514.0" width="50.5" height="1.05" fill="#abbcc1"/>
<rect x="54.2" y="515.0" width="50.5" height="1.05" fill="#abbcc1"/>
<rect x="54.2" y="516.0" width="50.5" height="1.05" fill="#a9babf"/>
<rect x="54.2" y="517.0" width="50.5" height="1.05" fill="#aabbc0"/>
<rect x="54.2" y="518.0" width="50.5" height="1.05" fill="#a6b7bc"/>
<rect x="54.2" y="519.0" width="50.5" height="1.05" fill="#b3c4c9"/>
<rect x="54.2" y="520.0" width="50.5" height="1.05" fill="#afc0c5"/>
<rect x="54.2" y="521.0" width="50.5" height="1.05" fill="#b2c3c8"/>
<rect x="54.2" y="522.0" width="50.5" height="1.05" fill="#a9babf"/>
<rect x="54.2" y="523.0" width="50.5" height="1.05" fill="#a7b8bd"/>
<rect x="54.2" y="524.0" width="50.5" height="1.05" fill="#9cadb3"/>
<rect x="54.2" y="525.0" width="50.5" height="1.05" fill="#a1b2b7"/>
<rect x="54.2" y="526.0" width="50.5" height="1.05" fill="#a0b1b6"/>
<rect x="54.2" y="527.0" width="50.5" height="1.05" fill="#97a8ae"/>
<rect x="54.2" y="528.0" width="50.5" height="1.05" fill="#9fb0b6"/>
<rect x="54.2" y="529.0" width="50.5" height="1.05" fill="#a4b5ba"/>
<rect x="54.2" y="530.0" width="50.5" height="1.05" fill="#9eafb5"/>
<rect x="54.2" y="531.0" width="50.5" height="1.05" fill="#a1b2b7"/>
<rect x="54.2" y="532.0" width="50.5" height="1.05" fill="#a7b8bd"/>
<rect x="54.2" y="533.0" width="50.5" height="1.05" fill="#aabbc0"/>
<rect x="54.2" y="534.0" width="50.5" height="1.05" fill="#a8b9be"/>
<rect x="54.2" y="535.0" width="50.5" height="1.05" fill="#aebfc4"/>
<rect x="54.2" y="536.0" width="50.5" height="1.05" fill="#afc0c5"/>
<rect x="54.2" y="537.0" width="50.5" height="1.05" fill="#b1c2c7"/>
<rect x="54.2" y="538.0" width="50.5" height="1.05" fill="#b2c3c8"/>
<rect x="54.2" y="539.0" width="50.5" height="1.05" fill="#b5c6cc"/>
<rect x="54.2" y="540.0" width="50.5" height="1.05" fill="#b4c5ca"/>
<rect x="54.2" y="541.0" width="50.5" height="1.05" fill="#a9babf"/>
<rect x="54.2" y="542.0" width="50.5" height="1.05" fill="#aabbc0"/>
<rect x="54.2" y="543.0" width="50.5" height="1.05" fill="#a7b8bd"/>
<rect x="54.2" y="544.0" width="50.5" height="1.05" fill="#a5b6bb"/>
<rect x="54.2" y="545.0" width="50.5" height="1.05" fill="#a7b8bd"/>
<rect x="54.2" y="546.0" width="50.5" height="1.05" fill="#a7b8bd"/>
<rect x="54.2" y="547.0" width="50.5" height="1.05" fill="#abbcc1"/>
<rect x="54.2" y="548.0" width="50.5" height="1.05" fill="#a6b7bc"/>
<rect x="54.2" y="549.0" width="50.5" height="1.05" fill="#a9babf"/>
<rect x="54.2" y="550.0" width="50.5" height="1.05" fill="#aebfc4"/>
<rect x="54.2" y="551.0" width="50.5" height="1.05" fill="#acbdc2"/>
<rect x="54.2" y="552.0" width="50.5" height="1.05" fill="#abbcc1"/>
<rect x="54.2" y="553.0" width="50.5" height="1.05" fill="#aabbc0"/>
<rect x="54.2" y="554.0" width="50.5" height="1.05" fill="#a7b8bd"/>
<rect x="54.2" y="555.0" width="50.5" height="0.65" fill="#abbcc1"/>
</g>
<g shape-rendering="crispEdges">
<rect x="54.2" y="446" width="38.0" height="1" fill="#d4dcda" opacity="0.13"/>
<rect x="64.7" y="505" width="27.8" height="1" fill="#d4dcda" opacity="0.18"/>
<rect x="54.2" y="388" width="33.5" height="1" fill="#d4dcda" opacity="0.11"/>
<rect x="54.2" y="406" width="39.8" height="1" fill="#d4dcda" opacity="0.06"/>
<rect x="82.1" y="104" width="22.6" height="1" fill="#1e2424" opacity="0.08"/>
<rect x="68.0" y="323" width="24.5" height="1" fill="#1e2424" opacity="0.11"/>
<rect x="55.6" y="133" width="49.1" height="1" fill="#1e2424" opacity="0.06"/>
<rect x="69.8" y="315" width="14.6" height="1" fill="#d4dcda" opacity="0.12"/>
<rect x="54.2" y="303" width="47.8" height="1" fill="#d4dcda" opacity="0.11"/>
<rect x="54.2" y="111" width="30.0" height="1" fill="#1e2424" opacity="0.16"/>
<rect x="66.2" y="140" width="35.7" height="1" fill="#1e2424" opacity="0.07"/>
<rect x="87.4" y="259" width="17.3" height="1" fill="#1e2424" opacity="0.06"/>
<rect x="59.4" y="74" width="45.3" height="1" fill="#1e2424" opacity="0.13"/>
<rect x="58.1" y="286" width="26.4" height="1" fill="#d4dcda" opacity="0.03"/>
<rect x="61.9" y="457" width="26.2" height="1" fill="#d4dcda" opacity="0.09"/>
<rect x="54.2" y="79" width="43.4" height="1" fill="#1e2424" opacity="0.10"/>
<rect x="56.9" y="518" width="35.2" height="1" fill="#1e2424" opacity="0.16"/>
<rect x="54.2" y="97" width="16.5" height="1" fill="#d4dcda" opacity="0.09"/>
<rect x="56.8" y="149" width="23.0" height="1" fill="#1e2424" opacity="0.08"/>
<rect x="56.3" y="264" width="42.3" height="1" fill="#1e2424" opacity="0.14"/>
<rect x="66.4" y="277" width="38.3" height="1" fill="#1e2424" opacity="0.13"/>
<rect x="54.2" y="98" width="47.0" height="1" fill="#d4dcda" opacity="0.05"/>
<rect x="54.2" y="518" width="16.6" height="1" fill="#d4dcda" opacity="0.08"/>
<rect x="55.9" y="314" width="28.9" height="1" fill="#1e2424" opacity="0.14"/>
<rect x="75.1" y="407" width="23.4" height="1" fill="#1e2424" opacity="0.21"/>
<rect x="77.8" y="274" width="18.3" height="1" fill="#1e2424" opacity="0.11"/>
<rect x="54.2" y="488" width="30.4" height="1" fill="#d4dcda" opacity="0.22"/>
<rect x="66.7" y="303" width="29.4" height="1" fill="#1e2424" opacity="0.07"/>
<rect x="56.9" y="357" width="17.3" height="1" fill="#1e2424" opacity="0.12"/>
<rect x="92.8" y="527" width="11.9" height="1" fill="#1e2424" opacity="0.25"/>
<rect x="58.7" y="180" width="27.6" height="1" fill="#1e2424" opacity="0.09"/>
<rect x="70.4" y="257" width="18.5" height="1" fill="#d4dcda" opacity="0.11"/>
<rect x="91.9" y="183" width="12.8" height="1" fill="#1e2424" opacity="0.13"/>
<rect x="63.0" y="294" width="41.7" height="1" fill="#d4dcda" opacity="0.03"/>
<rect x="75.7" y="89" width="29.0" height="1" fill="#d4dcda" opacity="0.12"/>
<rect x="66.3" y="323" width="14.0" height="1" fill="#d4dcda" opacity="0.11"/>
<rect x="62.0" y="510" width="30.9" height="1" fill="#d4dcda" opacity="0.10"/>
<rect x="69.9" y="150" width="32.8" height="1" fill="#d4dcda" opacity="0.10"/>
<rect x="67.5" y="404" width="37.2" height="1" fill="#1e2424" opacity="0.26"/>
<rect x="54.2" y="73" width="38.8" height="1" fill="#d4dcda" opacity="0.09"/>
<rect x="57.9" y="228" width="46.8" height="1" fill="#1e2424" opacity="0.10"/>
<rect x="54.2" y="464" width="11.7" height="1" fill="#1e2424" opacity="0.22"/>
<rect x="81.4" y="271" width="23.3" height="1" fill="#1e2424" opacity="0.11"/>
<rect x="58.9" y="308" width="24.0" height="1" fill="#d4dcda" opacity="0.05"/>
<rect x="56.1" y="342" width="22.5" height="1" fill="#d4dcda" opacity="0.10"/>
<rect x="54.8" y="230" width="16.0" height="1" fill="#d4dcda" opacity="0.09"/>
<rect x="75.7" y="114" width="23.3" height="1" fill="#d4dcda" opacity="0.05"/>
<rect x="66.8" y="90" width="37.9" height="1" fill="#1e2424" opacity="0.10"/>
<rect x="64.8" y="76" width="39.9" height="1" fill="#1e2424" opacity="0.08"/>
<rect x="81.3" y="175" width="23.4" height="1" fill="#1e2424" opacity="0.08"/>
<rect x="54.2" y="462" width="38.7" height="1" fill="#d4dcda" opacity="0.16"/>
<rect x="64.4" y="531" width="22.0" height="1" fill="#d4dcda" opacity="0.21"/>
<rect x="54.2" y="147" width="38.5" height="1" fill="#1e2424" opacity="0.12"/>
<rect x="54.2" y="285" width="9.2" height="1" fill="#1e2424" opacity="0.15"/>
<rect x="54.2" y="525" width="20.4" height="1" fill="#1e2424" opacity="0.13"/>
<rect x="90.8" y="170" width="13.9" height="1" fill="#d4dcda" opacity="0.04"/>
<rect x="69.7" y="413" width="35.0" height="1" fill="#d4dcda" opacity="0.13"/>
<rect x="60.0" y="128" width="14.1" height="1" fill="#1e2424" opacity="0.16"/>
<rect x="71.7" y="136" width="33.0" height="1" fill="#1e2424" opacity="0.14"/>
<rect x="55.8" y="231" width="43.6" height="1" fill="#1e2424" opacity="0.11"/>
<rect x="60.7" y="263" width="33.5" height="1" fill="#1e2424" opacity="0.14"/>
<rect x="67.0" y="315" width="15.1" height="1" fill="#d4dcda" opacity="0.10"/>
<rect x="64.1" y="93" width="27.5" height="1" fill="#d4dcda" opacity="0.04"/>
<rect x="70.8" y="172" width="33.9" height="1" fill="#1e2424" opacity="0.08"/>
<rect x="85.2" y="388" width="15.6" height="1" fill="#d4dcda" opacity="0.21"/>
<rect x="86.8" y="225" width="14.1" height="1" fill="#d4dcda" opacity="0.09"/>
<rect x="57.2" y="106" width="14.9" height="1" fill="#1e2424" opacity="0.16"/>
<rect x="54.9" y="470" width="27.9" height="1" fill="#1e2424" opacity="0.20"/>
<rect x="54.2" y="548" width="22.2" height="1" fill="#d4dcda" opacity="0.11"/>
<rect x="61.6" y="427" width="41.8" height="1" fill="#1e2424" opacity="0.16"/>
<rect x="61.0" y="258" width="42.2" height="1" fill="#1e2424" opacity="0.10"/>
<rect x="54.2" y="154" width="16.0" height="1" fill="#1e2424" opacity="0.12"/>
<rect x="65.8" y="239" width="19.8" height="1" fill="#1e2424" opacity="0.06"/>
<rect x="54.2" y="392" width="12.2" height="1" fill="#1e2424" opacity="0.24"/>
<rect x="54.2" y="301" width="16.9" height="1" fill="#1e2424" opacity="0.15"/>
<rect x="69.2" y="193" width="35.5" height="1" fill="#d4dcda" opacity="0.04"/>
<rect x="57.0" y="503" width="24.6" height="1" fill="#1e2424" opacity="0.15"/>
<rect x="56.4" y="206" width="21.2" height="1" fill="#1e2424" opacity="0.07"/>
<rect x="54.2" y="525" width="41.2" height="1" fill="#1e2424" opacity="0.15"/>
<rect x="54.2" y="198" width="31.1" height="1" fill="#d4dcda" opacity="0.09"/>
<rect x="69.3" y="91" width="17.7" height="1" fill="#d4dcda" opacity="0.11"/>
<rect x="81.9" y="541" width="22.8" height="1" fill="#1e2424" opacity="0.11"/>
<rect x="56.7" y="380" width="48.0" height="1" fill="#d4dcda" opacity="0.12"/>
<rect x="74.4" y="516" width="20.4" height="1" fill="#d4dcda" opacity="0.17"/>
<rect x="75.6" y="76" width="17.8" height="1" fill="#d4dcda" opacity="0.05"/>
<rect x="54.2" y="261" width="18.2" height="1" fill="#d4dcda" opacity="0.04"/>
<rect x="54.2" y="447" width="34.2" height="1" fill="#1e2424" opacity="0.17"/>
<rect x="71.0" y="420" width="27.4" height="1" fill="#1e2424" opacity="0.11"/>
<rect x="54.2" y="326" width="26.1" height="1" fill="#1e2424" opacity="0.10"/>
<rect x="71.4" y="354" width="19.6" height="1" fill="#d4dcda" opacity="0.07"/>
<rect x="56.0" y="211" width="28.8" height="1" fill="#1e2424" opacity="0.16"/>
<rect x="70.4" y="232" width="34.3" height="1" fill="#1e2424" opacity="0.06"/>
<rect x="54.2" y="465" width="47.4" height="1" fill="#1e2424" opacity="0.25"/>
<rect x="54.2" y="177" width="47.7" height="1" fill="#1e2424" opacity="0.07"/>
<rect x="81.2" y="119" width="23.5" height="1" fill="#1e2424" opacity="0.07"/>
<rect x="54.2" y="80" width="13.6" height="1" fill="#d4dcda" opacity="0.07"/>
<rect x="56.8" y="366" width="36.4" height="1" fill="#1e2424" opacity="0.07"/>
<rect x="54.2" y="218" width="18.5" height="1" fill="#1e2424" opacity="0.10"/>
<rect x="70.8" y="458" width="33.9" height="1" fill="#1e2424" opacity="0.13"/>
<rect x="54.5" y="95" width="49.1" height="1" fill="#1e2424" opacity="0.16"/>
<rect x="82.2" y="271" width="17.1" height="1" fill="#d4dcda" opacity="0.11"/>
<rect x="54.2" y="400" width="38.6" height="1" fill="#1e2424" opacity="0.27"/>
<rect x="66.5" y="497" width="31.0" height="1" fill="#1e2424" opacity="0.29"/>
<rect x="54.2" y="153" width="23.1" height="1" fill="#1e2424" opacity="0.13"/>
<rect x="88.0" y="532" width="16.7" height="1" fill="#d4dcda" opacity="0.17"/>
<rect x="54.2" y="414" width="37.3" height="1" fill="#d4dcda" opacity="0.15"/>
<rect x="62.7" y="394" width="42.0" height="1" fill="#1e2424" opacity="0.15"/>
<rect x="58.8" y="272" width="37.7" height="1" fill="#1e2424" opacity="0.06"/>
<rect x="54.2" y="389" width="49.3" height="1" fill="#1e2424" opacity="0.22"/>
<rect x="54.2" y="492" width="27.7" height="1" fill="#1e2424" opacity="0.12"/>
<rect x="60.1" y="138" width="26.9" height="1" fill="#d4dcda" opacity="0.08"/>
<rect x="79.2" y="409" width="15.5" height="1" fill="#1e2424" opacity="0.25"/>
<rect x="54.2" y="471" width="32.4" height="1" fill="#d4dcda" opacity="0.20"/>
<rect x="54.2" y="407" width="41.3" height="1" fill="#d4dcda" opacity="0.22"/>
<rect x="54.2" y="447" width="32.4" height="1" fill="#1e2424" opacity="0.28"/>
<rect x="64.4" y="220" width="40.3" height="1" fill="#1e2424" opacity="0.14"/>
<rect x="84.6" y="549" width="20.1" height="1" fill="#d4dcda" opacity="0.10"/>
<rect x="54.2" y="238" width="42.9" height="1" fill="#d4dcda" opacity="0.05"/>
<rect x="54.7" y="330" width="48.7" height="1" fill="#d4dcda" opacity="0.09"/>
<rect x="54.2" y="194" width="17.1" height="1" fill="#1e2424" opacity="0.07"/>
<rect x="59.4" y="552" width="24.0" height="1" fill="#1e2424" opacity="0.26"/>
<rect x="72.0" y="208" width="18.1" height="1" fill="#d4dcda" opacity="0.06"/>
<rect x="65.2" y="519" width="30.3" height="1" fill="#d4dcda" opacity="0.20"/>
<rect x="57.3" y="202" width="47.4" height="1" fill="#1e2424" opacity="0.14"/>
<rect x="60.1" y="208" width="27.5" height="1" fill="#1e2424" opacity="0.09"/>
<rect x="54.2" y="114" width="27.1" height="1" fill="#d4dcda" opacity="0.04"/>
<rect x="56.0" y="492" width="32.6" height="1" fill="#d4dcda" opacity="0.20"/>
<rect x="54.4" y="548" width="37.9" height="1" fill="#1e2424" opacity="0.11"/>
<rect x="73.0" y="149" width="24.5" height="1" fill="#1e2424" opacity="0.10"/>
<rect x="56.0" y="97" width="18.8" height="1" fill="#d4dcda" opacity="0.03"/>
<rect x="55.2" y="74" width="34.4" height="1" fill="#1e2424" opacity="0.11"/>
<rect x="65.1" y="284" width="35.0" height="1" fill="#1e2424" opacity="0.12"/>
<rect x="54.2" y="316" width="10.4" height="1" fill="#d4dcda" opacity="0.10"/>
<rect x="78.1" y="303" width="17.4" height="1" fill="#d4dcda" opacity="0.10"/>
<rect x="70.6" y="278" width="34.1" height="1" fill="#1e2424" opacity="0.15"/>
<rect x="72.5" y="530" width="26.6" height="1" fill="#1e2424" opacity="0.29"/>
<rect x="54.2" y="448" width="28.1" height="1" fill="#1e2424" opacity="0.11"/>
<rect x="54.2" y="85" width="28.6" height="1" fill="#1e2424" opacity="0.14"/>
<rect x="66.8" y="79" width="36.1" height="1" fill="#1e2424" opacity="0.10"/>
<rect x="61.7" y="338" width="35.9" height="1" fill="#d4dcda" opacity="0.10"/>
<rect x="54.2" y="162" width="24.7" height="1" fill="#d4dcda" opacity="0.12"/>
<rect x="64.5" y="443" width="40.2" height="1" fill="#1e2424" opacity="0.27"/>
<rect x="54.2" y="454" width="38.7" height="1" fill="#d4dcda" opacity="0.09"/>
<rect x="74.5" y="126" width="23.4" height="1" fill="#1e2424" opacity="0.15"/>
<rect x="70.8" y="546" width="33.9" height="1" fill="#d4dcda" opacity="0.10"/>
<rect x="66.2" y="356" width="38.5" height="1" fill="#d4dcda" opacity="0.12"/>
<rect x="76.4" y="224" width="28.3" height="1" fill="#1e2424" opacity="0.15"/>
<rect x="89.8" y="80" width="14.9" height="1" fill="#d4dcda" opacity="0.05"/>
<rect x="54.2" y="154" width="40.5" height="1" fill="#d4dcda" opacity="0.06"/>
<rect x="80.7" y="195" width="24.0" height="1" fill="#d4dcda" opacity="0.12"/>
<rect x="54.2" y="503" width="49.2" height="1" fill="#d4dcda" opacity="0.17"/>
<rect x="97.3" y="512" width="7.4" height="1" fill="#1e2424" opacity="0.28"/>
<rect x="74.6" y="477" width="21.6" height="1" fill="#1e2424" opacity="0.28"/>
<rect x="54.2" y="147" width="11.4" height="1" fill="#d4dcda" opacity="0.05"/>
<rect x="54.2" y="145" width="30.2" height="1" fill="#1e2424" opacity="0.13"/>
<rect x="67.3" y="94" width="37.4" height="1" fill="#1e2424" opacity="0.12"/>
<rect x="91.3" y="259" width="13.4" height="1" fill="#1e2424" opacity="0.13"/>
<rect x="67.3" y="523" width="37.4" height="1" fill="#d4dcda" opacity="0.08"/>
<rect x="54.2" y="178" width="13.0" height="1" fill="#d4dcda" opacity="0.11"/>
<rect x="72.0" y="458" width="32.7" height="1" fill="#d4dcda" opacity="0.11"/>
<rect x="85.2" y="124" width="18.8" height="1" fill="#d4dcda" opacity="0.06"/>
<rect x="54.2" y="245" width="20.1" height="1" fill="#1e2424" opacity="0.09"/>
<rect x="70.7" y="439" width="34.0" height="1" fill="#d4dcda" opacity="0.16"/>
<rect x="60.2" y="316" width="44.5" height="1" fill="#1e2424" opacity="0.10"/>
<rect x="54.2" y="296" width="26.4" height="1" fill="#1e2424" opacity="0.06"/>
<rect x="86.2" y="362" width="18.5" height="1" fill="#1e2424" opacity="0.15"/>
<rect x="65.6" y="160" width="29.7" height="1" fill="#1e2424" opacity="0.14"/>
<rect x="71.9" y="100" width="14.2" height="1" fill="#1e2424" opacity="0.14"/>
<rect x="57.0" y="167" width="47.7" height="1" fill="#d4dcda" opacity="0.08"/>
<rect x="54.2" y="368" width="44.4" height="1" fill="#1e2424" opacity="0.13"/>
<rect x="91.6" y="328" width="13.1" height="1" fill="#d4dcda" opacity="0.08"/>
<rect x="54.2" y="429" width="28.0" height="1" fill="#1e2424" opacity="0.12"/>
<rect x="81.9" y="548" width="22.8" height="1" fill="#1e2424" opacity="0.28"/>
<rect x="57.3" y="85" width="27.4" height="1" fill="#1e2424" opacity="0.11"/>
<rect x="82.1" y="160" width="22.6" height="1" fill="#1e2424" opacity="0.11"/>
<rect x="68.4" y="345" width="35.4" height="1" fill="#d4dcda" opacity="0.04"/>
<rect x="54.2" y="370" width="22.7" height="1" fill="#d4dcda" opacity="0.09"/>
<rect x="65.0" y="452" width="25.6" height="1" fill="#d4dcda" opacity="0.10"/>
<rect x="68.2" y="191" width="18.5" height="1" fill="#d4dcda" opacity="0.05"/>
<rect x="79.6" y="171" width="23.6" height="1" fill="#d4dcda" opacity="0.09"/>
<rect x="56.8" y="443" width="19.6" height="1" fill="#1e2424" opacity="0.20"/>
<rect x="90.1" y="155" width="14.6" height="1" fill="#1e2424" opacity="0.16"/>
<rect x="77.5" y="125" width="19.9" height="1" fill="#1e2424" opacity="0.07"/>
<rect x="64.6" y="148" width="40.1" height="1" fill="#1e2424" opacity="0.08"/>
<rect x="54.2" y="399" width="43.5" height="1" fill="#d4dcda" opacity="0.13"/>
<rect x="77.5" y="79" width="27.2" height="1" fill="#d4dcda" opacity="0.08"/>
<rect x="54.2" y="396" width="15.7" height="1" fill="#1e2424" opacity="0.25"/>
<rect x="71.3" y="75" width="33.4" height="1" fill="#1e2424" opacity="0.12"/>
<rect x="72.3" y="456" width="32.4" height="1" fill="#d4dcda" opacity="0.16"/>
<rect x="64.2" y="522" width="40.5" height="1" fill="#d4dcda" opacity="0.17"/>
<rect x="66.7" y="401" width="18.5" height="1" fill="#1e2424" opacity="0.24"/>
<rect x="76.6" y="531" width="28.1" height="1" fill="#d4dcda" opacity="0.16"/>
<rect x="56.7" y="201" width="44.6" height="1" fill="#1e2424" opacity="0.15"/>
<rect x="74.1" y="338" width="30.6" height="1" fill="#1e2424" opacity="0.13"/>
<rect x="90.9" y="471" width="13.8" height="1" fill="#d4dcda" opacity="0.08"/>
<rect x="54.2" y="201" width="29.5" height="1" fill="#d4dcda" opacity="0.12"/>
<rect x="81.4" y="338" width="23.3" height="1" fill="#1e2424" opacity="0.08"/>
<rect x="68.5" y="316" width="32.4" height="1" fill="#d4dcda" opacity="0.08"/>
<rect x="57.8" y="283" width="40.7" height="1" fill="#d4dcda" opacity="0.05"/>
<rect x="54.2" y="336" width="35.0" height="1" fill="#d4dcda" opacity="0.06"/>
<rect x="62.3" y="101" width="23.1" height="1" fill="#1e2424" opacity="0.06"/>
<rect x="73.1" y="541" width="29.1" height="1" fill="#1e2424" opacity="0.15"/>
<rect x="62.5" y="187" width="24.9" height="1" fill="#d4dcda" opacity="0.12"/>
<rect x="54.3" y="483" width="48.6" height="1" fill="#1e2424" opacity="0.29"/>
<rect x="61.6" y="108" width="43.1" height="1" fill="#1e2424" opacity="0.12"/>
<rect x="54.2" y="188" width="37.3" height="1" fill="#d4dcda" opacity="0.11"/>
<rect x="56.9" y="480" width="43.4" height="1" fill="#1e2424" opacity="0.21"/>
<rect x="57.5" y="137" width="42.1" height="1" fill="#d4dcda" opacity="0.05"/>
<rect x="55.1" y="433" width="27.5" height="1" fill="#1e2424" opacity="0.14"/>
<rect x="66.2" y="74" width="38.5" height="1" fill="#1e2424" opacity="0.13"/>
<rect x="61.0" y="237" width="31.3" height="1" fill="#d4dcda" opacity="0.09"/>
<rect x="59.7" y="258" width="19.5" height="1" fill="#1e2424" opacity="0.06"/>
<rect x="62.9" y="362" width="41.8" height="1" fill="#1e2424" opacity="0.15"/>
<rect x="67.6" y="397" width="35.0" height="1" fill="#1e2424" opacity="0.11"/>
<rect x="54.2" y="223" width="17.8" height="1" fill="#1e2424" opacity="0.08"/>
<rect x="75.8" y="470" width="28.9" height="1" fill="#1e2424" opacity="0.18"/>
<rect x="89.2" y="346" width="15.5" height="1" fill="#d4dcda" opacity="0.10"/>
<rect x="57.4" y="415" width="46.5" height="1" fill="#d4dcda" opacity="0.11"/>
<rect x="61.0" y="326" width="38.9" height="1" fill="#d4dcda" opacity="0.07"/>
<rect x="54.2" y="524" width="14.4" height="1" fill="#1e2424" opacity="0.27"/>
<rect x="54.2" y="315" width="24.0" height="1" fill="#1e2424" opacity="0.07"/>
<rect x="54.2" y="324" width="20.7" height="1" fill="#d4dcda" opacity="0.10"/>
<rect x="56.5" y="155" width="44.3" height="1" fill="#d4dcda" opacity="0.09"/>
<rect x="61.1" y="503" width="30.8" height="1" fill="#d4dcda" opacity="0.17"/>
<rect x="65.6" y="165" width="36.9" height="1" fill="#1e2424" opacity="0.12"/>
<rect x="74.2" y="422" width="30.5" height="1" fill="#d4dcda" opacity="0.08"/>
<rect x="79.3" y="320" width="25.4" height="1" fill="#1e2424" opacity="0.13"/>
<rect x="54.2" y="393" width="13.5" height="1" fill="#d4dcda" opacity="0.11"/>
<rect x="73.2" y="471" width="31.5" height="1" fill="#1e2424" opacity="0.19"/>
<rect x="54.2" y="289" width="15.6" height="1" fill="#1e2424" opacity="0.09"/>
<rect x="65.3" y="325" width="28.5" height="1" fill="#1e2424" opacity="0.11"/>
<rect x="70.3" y="177" width="34.4" height="1" fill="#1e2424" opacity="0.09"/>
<rect x="94.7" y="226" width="10.0" height="1" fill="#1e2424" opacity="0.16"/>
<rect x="71.2" y="277" width="33.5" height="1" fill="#1e2424" opacity="0.06"/>
<rect x="54.2" y="226" width="10.3" height="1" fill="#d4dcda" opacity="0.07"/>
<rect x="70.1" y="465" width="34.6" height="1" fill="#d4dcda" opacity="0.16"/>
<rect x="78.7" y="388" width="19.3" height="1" fill="#d4dcda" opacity="0.20"/>
<rect x="76.8" y="115" width="21.7" height="1" fill="#1e2424" opacity="0.14"/>
<rect x="72.5" y="124" width="32.2" height="1" fill="#1e2424" opacity="0.07"/>
<rect x="56.3" y="549" width="37.6" height="1" fill="#d4dcda" opacity="0.19"/>
<rect x="70.9" y="360" width="33.8" height="1" fill="#1e2424" opacity="0.06"/>
<rect x="70.5" y="83" width="29.5" height="1" fill="#d4dcda" opacity="0.04"/>
<rect x="75.3" y="363" width="29.4" height="1" fill="#d4dcda" opacity="0.07"/>
<rect x="54.7" y="429" width="47.1" height="1" fill="#1e2424" opacity="0.18"/>
<rect x="57.9" y="376" width="46.8" height="1" fill="#1e2424" opacity="0.25"/>
<rect x="78.2" y="353" width="17.7" height="1" fill="#1e2424" opacity="0.07"/>
<rect x="54.2" y="80" width="19.8" height="1" fill="#d4dcda" opacity="0.12"/>
<rect x="90.6" y="512" width="14.1" height="1" fill="#1e2424" opacity="0.10"/>
<rect x="60.4" y="441" width="34.5" height="1" fill="#d4dcda" opacity="0.21"/>
<rect x="64.6" y="260" width="40.1" height="1" fill="#d4dcda" opacity="0.10"/>
<rect x="69.8" y="116" width="24.6" height="1" fill="#1e2424" opacity="0.13"/>
<rect x="89.9" y="528" width="14.8" height="1" fill="#d4dcda" opacity="0.06"/>
<rect x="61.2" y="80" width="43.5" height="1" fill="#d4dcda" opacity="0.07"/>
<rect x="54.2" y="232" width="35.3" height="1" fill="#d4dcda" opacity="0.08"/>
<rect x="87.0" y="103" width="17.7" height="1" fill="#d4dcda" opacity="0.07"/>
<rect x="85.1" y="158" width="19.2" height="1" fill="#1e2424" opacity="0.13"/>
<rect x="57.4" y="395" width="42.9" height="1" fill="#d4dcda" opacity="0.13"/>
<rect x="60.2" y="212" width="42.2" height="1" fill="#1e2424" opacity="0.06"/>
<rect x="70.0" y="406" width="34.7" height="1" fill="#1e2424" opacity="0.22"/>
<rect x="60.2" y="80" width="43.9" height="1" fill="#1e2424" opacity="0.10"/>
<rect x="62.7" y="527" width="22.9" height="1" fill="#1e2424" opacity="0.25"/>
<rect x="54.2" y="192" width="40.8" height="1" fill="#1e2424" opacity="0.08"/>
<rect x="91.0" y="289" width="13.7" height="1" fill="#d4dcda" opacity="0.10"/>
<rect x="65.7" y="220" width="39.0" height="1" fill="#d4dcda" opacity="0.08"/>
<rect x="61.3" y="213" width="43.4" height="1" fill="#1e2424" opacity="0.14"/>
<rect x="54.2" y="328" width="20.2" height="1" fill="#d4dcda" opacity="0.10"/>
<rect x="64.5" y="175" width="40.2" height="1" fill="#d4dcda" opacity="0.06"/>
<rect x="59.1" y="102" width="38.4" height="1" fill="#1e2424" opacity="0.08"/>
<rect x="65.8" y="457" width="14.3" height="1" fill="#1e2424" opacity="0.21"/>
<rect x="54.2" y="254" width="38.5" height="1" fill="#d4dcda" opacity="0.11"/>
<rect x="54.2" y="526" width="42.5" height="1" fill="#1e2424" opacity="0.14"/>
<rect x="54.2" y="181" width="19.9" height="1" fill="#d4dcda" opacity="0.06"/>
<rect x="78.2" y="361" width="26.5" height="1" fill="#d4dcda" opacity="0.05"/>
<rect x="54.2" y="545" width="47.6" height="1" fill="#1e2424" opacity="0.23"/>
<rect x="61.1" y="476" width="16.9" height="1" fill="#1e2424" opacity="0.16"/>
<rect x="54.2" y="383" width="6.6" height="1" fill="#d4dcda" opacity="0.20"/>
<rect x="54.2" y="321" width="32.7" height="1" fill="#d4dcda" opacity="0.06"/>
<rect x="61.4" y="122" width="43.3" height="1" fill="#d4dcda" opacity="0.12"/>
<rect x="54.2" y="203" width="43.2" height="1" fill="#d4dcda" opacity="0.07"/>
<rect x="74.7" y="87" width="15.8" height="1" fill="#d4dcda" opacity="0.07"/>
<rect x="54.2" y="505" width="38.3" height="1" fill="#d4dcda" opacity="0.12"/>
<rect x="54.2" y="134" width="32.2" height="1" fill="#1e2424" opacity="0.08"/>
<rect x="59.0" y="118" width="45.7" height="1" fill="#1e2424" opacity="0.10"/>
<rect x="54.3" y="154" width="27.4" height="1" fill="#d4dcda" opacity="0.05"/>
<rect x="54.2" y="204" width="39.2" height="1" fill="#d4dcda" opacity="0.04"/>
<rect x="87.3" y="543" width="15.7" height="1" fill="#d4dcda" opacity="0.16"/>
<rect x="54.2" y="320" width="13.9" height="1" fill="#d4dcda" opacity="0.12"/>
<rect x="61.6" y="419" width="40.9" height="1" fill="#1e2424" opacity="0.23"/>
<rect x="55.7" y="314" width="25.7" height="1" fill="#1e2424" opacity="0.11"/>
<rect x="77.0" y="159" width="27.7" height="1" fill="#d4dcda" opacity="0.11"/>
<rect x="54.2" y="312" width="35.8" height="1" fill="#1e2424" opacity="0.16"/>
<rect x="77.4" y="185" width="16.8" height="1" fill="#1e2424" opacity="0.14"/>
<rect x="54.2" y="471" width="24.0" height="1" fill="#d4dcda" opacity="0.19"/>
<rect x="96.5" y="394" width="8.2" height="1" fill="#1e2424" opacity="0.15"/>
<rect x="54.2" y="132" width="31.5" height="1" fill="#1e2424" opacity="0.06"/>
<rect x="80.0" y="438" width="24.7" height="1" fill="#1e2424" opacity="0.13"/>
<rect x="54.2" y="287" width="25.3" height="1" fill="#1e2424" opacity="0.15"/>
<rect x="54.2" y="244" width="40.1" height="1" fill="#1e2424" opacity="0.11"/>
<rect x="95.5" y="320" width="9.2" height="1" fill="#1e2424" opacity="0.15"/>
<rect x="57.2" y="415" width="47.3" height="1" fill="#d4dcda" opacity="0.08"/>
<rect x="62.1" y="459" width="21.3" height="1" fill="#d4dcda" opacity="0.22"/>
<rect x="62.9" y="546" width="22.6" height="1" fill="#1e2424" opacity="0.13"/>
<rect x="54.2" y="499" width="39.1" height="1" fill="#d4dcda" opacity="0.06"/>
<rect x="63.7" y="486" width="32.3" height="1" fill="#1e2424" opacity="0.26"/>
<rect x="60.8" y="342" width="24.3" height="1" fill="#1e2424" opacity="0.10"/>
<rect x="54.2" y="214" width="29.5" height="1" fill="#1e2424" opacity="0.14"/>
<rect x="74.3" y="437" width="20.3" height="1" fill="#d4dcda" opacity="0.20"/>
<rect x="54.8" y="447" width="31.8" height="1" fill="#1e2424" opacity="0.22"/>
<rect x="54.2" y="435" width="33.1" height="1" fill="#1e2424" opacity="0.10"/>
<rect x="56.5" y="427" width="40.4" height="1" fill="#d4dcda" opacity="0.07"/>
<rect x="56.6" y="488" width="26.5" height="1" fill="#d4dcda" opacity="0.21"/>
<rect x="95.1" y="119" width="9.6" height="1" fill="#1e2424" opacity="0.15"/>
<rect x="71.0" y="209" width="22.9" height="1" fill="#d4dcda" opacity="0.04"/>
<rect x="69.9" y="432" width="27.4" height="1" fill="#1e2424" opacity="0.20"/>
<rect x="54.2" y="301" width="40.4" height="1" fill="#1e2424" opacity="0.08"/>
<rect x="54.2" y="497" width="43.3" height="1" fill="#d4dcda" opacity="0.12"/>
<rect x="54.2" y="457" width="43.4" height="1" fill="#1e2424" opacity="0.25"/>
<rect x="64.4" y="301" width="32.5" height="1" fill="#1e2424" opacity="0.06"/>
<rect x="54.2" y="118" width="20.9" height="1" fill="#1e2424" opacity="0.08"/>
<rect x="54.2" y="491" width="38.8" height="1" fill="#d4dcda" opacity="0.18"/>
<rect x="77.7" y="206" width="14.6" height="1" fill="#d4dcda" opacity="0.08"/>
<rect x="58.4" y="432" width="30.0" height="1" fill="#1e2424" opacity="0.14"/>
<rect x="69.9" y="212" width="18.4" height="1" fill="#1e2424" opacity="0.09"/>
<rect x="90.3" y="135" width="14.4" height="1" fill="#1e2424" opacity="0.08"/>
<rect x="73.5" y="189" width="19.3" height="1" fill="#d4dcda" opacity="0.05"/>
<rect x="79.7" y="495" width="14.7" height="1" fill="#d4dcda" opacity="0.16"/>
<rect x="59.1" y="381" width="32.9" height="1" fill="#d4dcda" opacity="0.18"/>
<rect x="79.5" y="246" width="25.2" height="1" fill="#d4dcda" opacity="0.11"/>
<rect x="69.3" y="361" width="35.4" height="1" fill="#d4dcda" opacity="0.11"/>
<rect x="54.2" y="100" width="22.3" height="1" fill="#d4dcda" opacity="0.06"/>
<rect x="70.3" y="518" width="29.2" height="1" fill="#1e2424" opacity="0.21"/>
<rect x="54.2" y="108" width="24.7" height="1" fill="#d4dcda" opacity="0.05"/>
<rect x="61.0" y="288" width="43.7" height="1" fill="#d4dcda" opacity="0.09"/>
<rect x="64.8" y="487" width="39.9" height="1" fill="#1e2424" opacity="0.27"/>
<rect x="76.0" y="390" width="23.6" height="1" fill="#1e2424" opacity="0.21"/>
<rect x="54.2" y="546" width="10.8" height="1" fill="#1e2424" opacity="0.10"/>
<rect x="54.2" y="194" width="44.6" height="1" fill="#1e2424" opacity="0.13"/>
<rect x="96.3" y="134" width="8.4" height="1" fill="#d4dcda" opacity="0.11"/>
<rect x="65.4" y="116" width="30.8" height="1" fill="#1e2424" opacity="0.07"/>
<rect x="66.8" y="140" width="37.9" height="1" fill="#d4dcda" opacity="0.06"/>
<rect x="73.3" y="449" width="17.2" height="1" fill="#d4dcda" opacity="0.16"/>
<rect x="63.0" y="364" width="22.0" height="1" fill="#1e2424" opacity="0.10"/>
<rect x="66.7" y="529" width="33.7" height="1" fill="#1e2424" opacity="0.16"/>
<rect x="54.2" y="197" width="24.4" height="1" fill="#1e2424" opacity="0.16"/>
<rect x="64.0" y="275" width="14.4" height="1" fill="#d4dcda" opacity="0.05"/>
<rect x="56.3" y="358" width="25.7" height="1" fill="#d4dcda" opacity="0.05"/>
<rect x="54.2" y="102" width="36.3" height="1" fill="#1e2424" opacity="0.15"/>
<rect x="61.2" y="298" width="37.7" height="1" fill="#d4dcda" opacity="0.06"/>
<rect x="56.0" y="463" width="17.9" height="1" fill="#d4dcda" opacity="0.18"/>
<rect x="71.9" y="152" width="29.0" height="1" fill="#1e2424" opacity="0.08"/>
<rect x="65.5" y="385" width="39.2" height="1" fill="#1e2424" opacity="0.25"/>
<rect x="67.4" y="453" width="37.3" height="1" fill="#1e2424" opacity="0.23"/>
<rect x="54.2" y="396" width="39.9" height="1" fill="#d4dcda" opacity="0.06"/>
<rect x="54.2" y="465" width="28.1" height="1" fill="#1e2424" opacity="0.30"/>
<rect x="76.7" y="149" width="28.0" height="1" fill="#d4dcda" opacity="0.09"/>
<rect x="62.1" y="267" width="42.6" height="1" fill="#1e2424" opacity="0.09"/>
<rect x="67.8" y="253" width="28.1" height="1" fill="#1e2424" opacity="0.09"/>
<rect x="73.5" y="475" width="31.2" height="1" fill="#1e2424" opacity="0.16"/>
<rect x="54.2" y="347" width="21.6" height="1" fill="#d4dcda" opacity="0.08"/>
<rect x="54.2" y="118" width="42.5" height="1" fill="#d4dcda" opacity="0.09"/>
<rect x="54.2" y="197" width="43.0" height="1" fill="#1e2424" opacity="0.16"/>
<rect x="58.5" y="78" width="14.9" height="1" fill="#d4dcda" opacity="0.06"/>
<rect x="59.6" y="347" width="41.8" height="1" fill="#d4dcda" opacity="0.08"/>
<rect x="57.2" y="337" width="40.2" height="1" fill="#1e2424" opacity="0.06"/>
<rect x="85.8" y="419" width="18.9" height="1" fill="#d4dcda" opacity="0.14"/>
<rect x="65.1" y="123" width="28.7" height="1" fill="#d4dcda" opacity="0.11"/>
<rect x="68.1" y="151" width="36.6" height="1" fill="#1e2424" opacity="0.10"/>
<rect x="58.4" y="392" width="46.3" height="1" fill="#d4dcda" opacity="0.18"/>
<rect x="60.2" y="120" width="20.1" height="1" fill="#d4dcda" opacity="0.11"/>
<rect x="77.1" y="335" width="20.3" height="1" fill="#1e2424" opacity="0.09"/>
<rect x="62.7" y="551" width="42.0" height="1" fill="#1e2424" opacity="0.13"/>
<rect x="54.2" y="221" width="39.0" height="1" fill="#d4dcda" opacity="0.07"/>
<rect x="64.6" y="103" width="36.7" height="1" fill="#1e2424" opacity="0.16"/>
<rect x="65.3" y="398" width="39.4" height="1" fill="#1e2424" opacity="0.10"/>
<rect x="54.2" y="436" width="29.0" height="1" fill="#1e2424" opacity="0.27"/>
<rect x="54.2" y="373" width="6.2" height="1" fill="#1e2424" opacity="0.25"/>
<rect x="74.6" y="363" width="23.6" height="1" fill="#1e2424" opacity="0.16"/>
<rect x="73.9" y="367" width="21.1" height="1" fill="#1e2424" opacity="0.11"/>
<rect x="54.2" y="333" width="13.1" height="1" fill="#1e2424" opacity="0.11"/>
<rect x="61.3" y="494" width="30.8" height="1" fill="#d4dcda" opacity="0.16"/>
</g>
<rect x="54.2" y="71.8" width="50.5" height="483.8" filter="url(#streak)" opacity="0.24"/>
<rect x="54.2" y="71.8" width="50.5" height="483.8" filter="url(#streakL)" opacity="0.18"/>
<g stroke="#4d4248" fill="none">
<path d="M54.6,54.5V555.6" stroke-width="1"/>
<path d="M45.2,54.5H54.6M45.2,145.7H54.6M45.2,236.9H54.6M45.2,328.2H54.6M45.2,419.4H54.6M45.2,510.6H54.6" stroke-width="1"/>
<path d="M50,72.7H54.6M50,91.0H54.6M50,109.2H54.6M50,127.5H54.6M50,164.0H54.6M50,182.2H54.6M50,200.5H54.6M50,218.7H54.6M50,255.2H54.6M50,273.4H54.6M50,291.7H54.6M50,309.9H54.6M50,346.4H54.6M50,364.6H54.6M50,382.9H54.6M50,401.1H54.6M50,437.6H54.6M50,455.9H54.6M50,474.1H54.6M50,492.4H54.6M50,528.8H54.6M50,547.1H54.6" stroke-width="1"/>
</g>
<text x="22.6" y="60.65" font-size="10.2" text-anchor="middle" >0</text>
<text x="33.5" y="150.17" font-size="10.2" text-anchor="middle" >100</text>
<text x="33.5" y="241.39" font-size="10.2" text-anchor="middle" >200</text>
<text x="33.5" y="332.61" font-size="10.2" text-anchor="middle" >300</text>
<text x="33.5" y="423.83" font-size="10.2" text-anchor="middle" >400</text>
<text x="33.5" y="515.05" font-size="10.2" text-anchor="middle" >500</text>
<text transform="translate(8.2,305.4) rotate(-90)" font-size="10.2" text-anchor="middle">Depth (cm)</text>
<text x="20.2" y="7.5" font-size="9.6" font-weight="bold" text-anchor="start">a</text>
<text x="177.8" y="7.5" font-size="9.6" font-weight="bold" text-anchor="start">b</text>
<text x="280.7" y="7.5" font-size="9.6" font-weight="bold" text-anchor="start">c</text>
<text x="381.0" y="7.5" font-size="9.6" font-weight="bold" text-anchor="start">d</text>
<text x="497.7" y="7.5" font-size="9.6" font-weight="bold" text-anchor="start">e</text>
<text x="602.0" y="7.5" font-size="9.6" font-weight="bold" text-anchor="start">f</text>
<text x="135.8" y="28.45" font-size="10.2" text-anchor="middle" >Age</text>
<text x="135.9" y="44.15" font-size="10.2" text-anchor="middle" >(Cal yrs. BP)</text>
<text x="73.9" y="44.15" font-size="10.2" text-anchor="middle" >Core image</text>
<text x="290.3" y="27.72" font-size="10.4" text-anchor="middle" font-style="italic">Magnetic mineral data</text>
<text x="570.2" y="28.02" font-size="10.4" text-anchor="middle" font-style="italic">XRF element ratios</text>
<text x="212.2" y="45.85" font-size="10.2" text-anchor="middle" >Mag Sus</text>
<text x="533.9" y="45.65" font-size="10.2" text-anchor="middle" >Fe/Ti</text>
<text x="637.0" y="45.65" font-size="10.2" text-anchor="middle" >Mn/Fe</text>
<text x="308.2" y="45.85" font-size="10.2" text-anchor="start">M<tspan font-size="6" dy="2.8">rs</tspan></text>
<text x="408.4" y="45.85" font-size="10.2" text-anchor="start">B<tspan font-size="6" dy="2.8">cr</tspan></text>
<text x="146" y="106.35" font-size="10.2" text-anchor="middle" >750</text>
<text x="142.4" y="162.65" font-size="10.2" text-anchor="middle" >3450</text>
<text x="142.4" y="190.15" font-size="10.2" text-anchor="middle" >4000</text>
<text x="142.4" y="236.65" font-size="10.2" text-anchor="middle" >4400</text>
<text x="142.4" y="270.85" font-size="10.2" text-anchor="middle" >5380</text>
<text x="142.4" y="301.65" font-size="10.2" text-anchor="middle" >7650</text>
<text x="142.4" y="328.95" font-size="10.2" text-anchor="middle" >9500</text>
<text x="143" y="369.55" font-size="10.2" text-anchor="middle" >11000</text>
<text x="142.7" y="416.15" font-size="10.2" text-anchor="middle" >12800</text>
<text x="142.7" y="495.45" font-size="10.2" text-anchor="middle" >14750</text>
<text transform="translate(107.6,155.6) rotate(90)" font-size="10.2" text-anchor="middle">Late Holocene</text>
<text transform="translate(107.6,302.3) rotate(90)" font-size="10.2" text-anchor="middle">Early Holocene</text>
<text transform="translate(107.6,397.4) rotate(90)" font-size="10.2" text-anchor="middle">YD</text>
<text transform="translate(108.3,457) rotate(90)" font-size="10.2" text-anchor="middle">ACR</text>
<rect x="174.4" y="53.9" width="90.3" height="501.8" fill="none" stroke="#6c82c2" stroke-width="0.55"/>
<path d="M174.4,53.5v6M174.4,556.1v-6M192.5,53.5v6M192.5,556.1v-6M210.5,53.5v6M210.5,556.1v-6M228.6,53.5v6M228.6,556.1v-6M246.6,53.5v6M246.6,556.1v-6M174.0,145.3h6M265.09999999999997,145.3h-6M174.0,236.5h6M265.09999999999997,236.5h-6M174.0,327.8h6M265.09999999999997,327.8h-6M174.0,419.0h6M265.09999999999997,419.0h-6M174.0,510.2h6M265.09999999999997,510.2h-6" stroke="#748bcc" stroke-width="0.9" fill="none"/>
<rect x="275.5" y="53.9" width="90.9" height="501.8" fill="none" stroke="#6c82c2" stroke-width="0.55"/>
<path d="M275.5,53.5v6M275.5,556.1v-6M288.4,53.5v6M288.4,556.1v-6M301.3,53.5v6M301.3,556.1v-6M314.2,53.5v6M314.2,556.1v-6M327.1,53.5v6M327.1,556.1v-6M340.0,53.5v6M340.0,556.1v-6M352.9,53.5v6M352.9,556.1v-6M275.1,145.3h6M366.79999999999995,145.3h-6M275.1,236.5h6M366.79999999999995,236.5h-6M275.1,327.8h6M366.79999999999995,327.8h-6M275.1,419.0h6M366.79999999999995,419.0h-6M275.1,510.2h6M366.79999999999995,510.2h-6" stroke="#748bcc" stroke-width="0.9" fill="none"/>
<rect x="376.5" y="53.9" width="91.1" height="501.8" fill="none" stroke="#6c82c2" stroke-width="0.55"/>
<path d="M376.5,53.5v6M376.5,556.1v-6M389.5,53.5v6M389.5,556.1v-6M402.4,53.5v6M402.4,556.1v-6M415.4,53.5v6M415.4,556.1v-6M428.4,53.5v6M428.4,556.1v-6M441.4,53.5v6M441.4,556.1v-6M454.3,53.5v6M454.3,556.1v-6M467.3,53.5v6M467.3,556.1v-6M376.1,145.3h6M468.0,145.3h-6M376.1,236.5h6M468.0,236.5h-6M376.1,327.8h6M468.0,327.8h-6M376.1,419.0h6M468.0,419.0h-6M376.1,510.2h6M468.0,510.2h-6" stroke="#748bcc" stroke-width="0.9" fill="none"/>
<rect x="492.6" y="53.9" width="89.9" height="501.8" fill="none" stroke="#6c82c2" stroke-width="0.55"/>
<path d="M492.6,53.5v6M492.6,556.1v-6M507.6,53.5v6M507.6,556.1v-6M522.6,53.5v6M522.6,556.1v-6M537.5,53.5v6M537.5,556.1v-6M552.5,53.5v6M552.5,556.1v-6M567.5,53.5v6M567.5,556.1v-6M582.5,53.5v6M582.5,556.1v-6M492.20000000000005,145.3h6M582.9,145.3h-6M492.20000000000005,236.5h6M582.9,236.5h-6M492.20000000000005,327.8h6M582.9,327.8h-6M492.20000000000005,419.0h6M582.9,419.0h-6M492.20000000000005,510.2h6M582.9,510.2h-6" stroke="#748bcc" stroke-width="0.9" fill="none"/>
<rect x="593.9" y="53.9" width="90.5" height="501.8" fill="none" stroke="#6c82c2" stroke-width="0.55"/>
<path d="M605.3,53.5v6M605.3,556.1v-6M616.7,53.5v6M616.7,556.1v-6M628.0,53.5v6M628.0,556.1v-6M639.4,53.5v6M639.4,556.1v-6M650.7,53.5v6M650.7,556.1v-6M662.1,53.5v6M662.1,556.1v-6M673.4,53.5v6M673.4,556.1v-6M684.8,53.5v6M684.8,556.1v-6M593.5,145.3h6M684.8,145.3h-6M593.5,236.5h6M684.8,236.5h-6M593.5,327.8h6M684.8,327.8h-6M593.5,419.0h6M684.8,419.0h-6M593.5,510.2h6M684.8,510.2h-6" stroke="#748bcc" stroke-width="0.9" fill="none"/>
<text x="174.3" y="569.04" font-size="9.9" text-anchor="middle" >0</text>
<text x="208.9" y="569.04" font-size="9.9" text-anchor="middle" >100</text>
<text x="244.9" y="569.04" font-size="9.9" text-anchor="middle" >200</text>
<text x="273.8" y="569.04" font-size="9.9" text-anchor="middle" >0</text>
<text x="287.4" y="569.04" font-size="9.9" text-anchor="middle" >2</text>
<text x="312.7" y="569.04" font-size="9.9" text-anchor="middle" >6</text>
<text x="339.5" y="569.04" font-size="9.9" text-anchor="middle" >10</text>
<text x="364.0" y="569.04" font-size="9.9" text-anchor="middle" >12</text>
<text x="379.9" y="569.04" font-size="9.9" text-anchor="middle" >30</text>
<text x="402.3" y="569.04" font-size="9.9" text-anchor="middle" >40</text>
<text x="428.1" y="569.04" font-size="9.9" text-anchor="middle" >50</text>
<text x="454.0" y="569.04" font-size="9.9" text-anchor="middle" >60</text>
<text x="489.0" y="569.04" font-size="9.9" text-anchor="middle" >20</text>
<text x="519.1" y="569.04" font-size="9.9" text-anchor="middle" >40</text>
<text x="549.5" y="569.04" font-size="9.9" text-anchor="middle" >60</text>
<text x="578.9" y="569.04" font-size="9.9" text-anchor="middle" >80</text>
<text x="593.4" y="569.04" font-size="9.9" text-anchor="middle" >0</text>
<text x="615.3" y="569.04" font-size="9.9" text-anchor="middle" >0.1</text>
<text x="635.1" y="569.04" font-size="9.9" text-anchor="middle" >0.2</text>
<text x="654.7" y="569.04" font-size="9.9" text-anchor="middle" >0.3</text>
<text x="674.5" y="569.04" font-size="9.9" text-anchor="middle" >0.4</text>
<text x="217.8" y="585.1" font-size="10.2" text-anchor="middle">S.I.x10<tspan font-size="6.2" dy="-3.2">-5</tspan></text>
<text x="326.7" y="585.1" font-size="10.2" text-anchor="middle">mAm<tspan font-size="6.2" dy="-3.4">2</tspan><tspan dy="3.4">/kg</tspan></text>
<text x="427.2" y="585.1" font-size="10.2" text-anchor="middle" >mT</text>
<text x="538.4" y="585.1" font-size="10.2" text-anchor="middle" >ratio</text>
<text x="645.6" y="585.1" font-size="10.2" text-anchor="middle" >ratio</text>
<polyline fill="none" stroke="#0f0f0f" stroke-width="0.7" stroke-linejoin="round" points="174.6,71.2 177.6,71.6 177.8,72.7 177.8,73.8 177.4,74.9 177.8,76.0 177.5,77.2 177.4,78.4 177.1,79.6 177.6,80.8 177.4,82.0 177.8,83.2 178.0,84.4 177.2,85.6 177.4,86.8 177.8,88.0 177.9,89.2 177.2,90.4 177.4,91.6 177.5,92.8 177.5,94.0 177.9,96.0 180.0,96.6 177.6,97.4 177.8,98.7 177.1,100.0 177.1,101.4 177.3,102.7 177.5,104.0 177.4,105.2 177.4,106.4 177.9,107.6 177.6,108.8 178.0,110.0 177.5,111.1 178.2,112.3 177.8,113.4 177.8,114.6 177.6,115.7 178.1,116.9 177.7,118.0 178.2,119.1 177.5,120.3 178.1,121.4 178.2,122.6 178.2,123.7 178.1,124.9 178.3,126.0 178.2,127.1 178.4,128.3 177.7,129.4 178.5,130.6 177.7,131.7 177.7,132.9 178.0,134.0 178.0,135.2 177.8,136.4 178.6,137.6 178.3,138.8 178.5,140.0 178.3,141.2 178.2,142.5 178.6,143.8 178.2,145.0 177.8,146.5 177.6,148.0 174.6,149.6 178.0,151.5 178.7,152.8 179.0,154.0 179.7,155.2 178.8,156.4 179.5,157.6 178.9,158.8 178.8,160.0 178.7,161.2 179.0,162.4 178.9,163.6 179.1,164.8 179.3,166.0 178.9,167.2 178.5,168.4 179.6,169.6 178.7,170.8 179.0,172.0 178.6,173.2 178.9,174.4 179.5,175.6 180.1,176.8 179.8,178.0 180.0,179.2 179.9,180.4 180.5,181.6 179.7,182.8 180.2,184.0 180.0,185.2 179.7,186.4 179.9,187.6 180.2,188.8 180.0,190.0 180.3,191.2 180.0,192.4 180.4,193.6 180.2,194.8 180.8,196.0 181.5,197.3 181.3,198.7 181.2,200.0 180.6,202.0 181.6,203.2 180.2,205.0 181.0,206.2 181.1,207.5 180.6,208.8 180.6,210.0 180.6,211.2 181.5,212.4 180.8,213.6 180.7,214.8 180.9,216.0 180.8,217.2 180.2,218.4 181.0,219.6 180.8,220.8 180.5,222.0 180.0,223.2 181.3,224.4 181.3,225.6 181.5,226.8 181.2,228.0 180.5,229.2 181.4,230.4 180.5,231.6 180.3,232.8 181.0,234.0 181.4,235.2 181.5,236.4 181.7,237.6 181.0,238.8 181.5,240.0 181.0,241.2 182.0,242.4 180.7,243.6 181.9,244.8 181.2,246.0 181.9,247.3 182.0,248.7 181.8,250.0 181.1,251.5 181.4,253.0 180.6,255.0 174.6,255.6 174.6,256.4 182.0,257.0 182.6,259.0 182.7,260.5 182.2,262.0 181.8,263.3 182.3,264.7 182.9,266.0 183.5,267.3 183.0,268.7 183.3,270.0 182.9,271.3 183.5,272.7 182.8,274.0 183.1,275.5 183.6,277.0 183.3,278.5 182.6,280.0 183.1,281.5 183.2,283.0 183.1,284.5 182.0,286.0 183.2,287.5 183.0,289.0 182.1,290.5 182.1,292.0 182.4,293.5 183.2,295.0 183.0,296.5 181.9,298.0 182.6,299.5 182.8,301.0 182.8,302.5 181.6,304.0 181.3,305.5 182.4,307.0 182.0,308.5 181.0,310.0 181.3,311.5 181.8,313.0 182.0,314.5 180.8,316.0 181.1,317.5 181.6,319.0 181.6,320.5 180.4,322.0 181.8,324.0 180.4,325.5 180.2,327.0 180.5,328.5 181.4,330.0 179.6,332.0 179.6,333.3 180.4,334.7 180.6,336.0 179.9,337.3 180.3,338.7 179.8,340.0 180.0,341.3 180.6,342.7 180.8,344.0 180.4,345.3 180.7,346.7 180.0,348.0 179.8,349.3 181.0,350.7 181.0,352.0 180.8,353.3 180.7,354.7 180.2,356.0 181.2,357.3 181.0,358.7 181.2,360.0 180.4,361.3 180.4,362.7 180.0,364.0 180.4,365.3 181.3,366.7 181.0,368.0 181.0,369.3 180.6,370.7 180.3,372.0 181.3,373.3 180.5,374.7 181.4,376.0 181.2,377.3 180.4,378.7 179.6,380.0 179.9,381.3 179.5,382.7 178.6,384.0 178.5,385.3 178.4,386.7 177.8,388.0 178.3,389.3 177.7,390.7 177.2,392.0 176.3,393.3 176.5,394.7 176.6,396.0 176.9,397.3 176.2,398.7 176.4,400.0 177.1,401.5 176.6,403.0 176.9,404.2 177.4,405.5 179.0,407.0 183.9,408.2 180.6,409.0 181.2,410.0 188.0,410.6 181.4,411.4 180.4,412.4 197.0,413.4 181.0,414.2 180.6,414.8 205.0,415.3 181.5,416.0 180.2,417.5 179.8,419.0 185.0,419.7 180.0,420.4 179.6,422.0 181.0,424.0 193.4,424.8 181.6,425.6 182.5,427.0 183.5,427.8 261.0,428.2 183.0,428.9 181.8,430.0 200.0,431.0 182.0,431.8 180.5,433.0 179.4,435.0 177.0,437.0 174.6,438.2 177.5,439.5 180.5,440.8 185.0,441.6 181.0,442.4 182.0,444.0 191.0,445.5 182.0,446.3 183.0,447.4 193.0,448.2 181.5,449.0 179.8,450.5 180.4,452.0 182.0,453.0 209.4,453.7 182.2,454.4 181.0,456.0 187.0,457.7 181.4,458.6 180.2,460.0 181.0,462.0 182.5,463.4 196.7,464.2 182.4,465.0 180.8,467.0 180.0,469.0 181.6,470.6 196.0,471.5 183.0,472.2 208.0,473.0 182.6,473.8 181.4,475.0 216.0,476.0 182.6,476.8 181.2,477.6 209.4,478.4 182.5,479.2 181.6,480.6 183.0,481.8 199.0,482.6 184.0,483.4 185.0,484.0 241.8,484.6 185.0,485.3 183.5,486.5 184.6,488.0 186.0,489.0 193.0,489.6 185.0,490.4 184.0,492.0 185.2,493.4 215.7,494.2 184.0,495.0 179.6,495.8 179.2,498.0 179.6,499.3 180.0,500.7 179.3,502.0 179.5,504.0 181.5,504.6 192.2,505.0 181.5,505.6 180.6,506.8 183.5,507.5 208.0,508.0 183.5,508.6 182.2,510.0 181.4,512.0 182.6,514.0 181.2,516.0 182.4,518.0 181.4,520.0 178.0,521.0 174.6,521.4 174.6,523.0 180.5,523.6 183.0,524.3 192.7,524.8 183.0,525.4 182.2,527.0 183.6,529.0 182.0,531.0 183.8,533.0 182.4,535.0 181.2,537.0 183.2,539.0 185.2,541.0 186.5,543.0 185.4,545.0 183.2,547.0 184.6,549.0 185.8,551.0 183.2,553.0 181.6,555.0"/>
<g fill="none" stroke="#2a2a2a" stroke-width="0.6">
<polyline points="281.0,56.1 311.7,71.2 294.1,80.7 299.9,89.9 306.8,107.6 321.0,116.8 315.7,125.4 301.7,135.4 304.9,144.6 324.0,153.0 322.1,161.7 331.0,170.9 331.3,179.8 332.5,188.7 342.8,198.2 282.3,203.0 334.4,212.2 316.0,221.5 325.9,230.4 324.7,239.6 324.3,248.8 328.9,257.8 349.7,262.6 331.3,266.9 352.8,271.8 360.0,275.9 352.0,280.8 348.6,285.3 362.0,289.7 333.6,294.4 342.6,294.4 352.0,299.5 357.4,303.5 337.4,308.8 343.6,317.6 311.7,327.8 323.2,328.0 358.4,331.8 296.8,340.9 328.6,343.3 331.8,349.7 333.3,353.3 309.2,357.8 317.1,362.5 302.2,366.8 288.1,371.6 289.6,380.8 284.9,385.2 286.1,389.5 288.1,390.3 288.9,395.2 285.3,399.5 283.3,403.7 324.0,408.2 342.0,410.9 301.4,413.6 304.0,413.2 360.1,414.5 306.8,419.1 296.5,423.5 289.9,428.3 304.0,432.8 285.3,437.2 311.7,441.8 294.2,447.6 291.5,448.7 286.6,450.2 310.6,451.5 283.8,456.1 283.2,459.8 284.6,461.4 283.4,462.8 285.0,464.2 284.0,465.6 285.4,467.0 307.2,468.6 363.8,469.9 282.0,474.5 300.3,478.7 283.0,483.3 294.8,487.9 339.0,492.4 282.3,496.7 281.8,497.3 282.6,502.3 282.7,505.1 292.7,506.6 291.5,512.0 283.0,514.8"/>
</g>
<g fill="none" stroke="#2a2a2a" stroke-width="0.55">
<circle cx="281.0" cy="56.1" r="2.9"/>
<circle cx="311.7" cy="71.2" r="2.9"/>
<circle cx="294.1" cy="80.7" r="2.9"/>
<circle cx="299.9" cy="89.9" r="2.9"/>
<circle cx="306.8" cy="107.6" r="2.9"/>
<circle cx="321.0" cy="116.8" r="2.9"/>
<circle cx="315.7" cy="125.4" r="2.9"/>
<circle cx="301.7" cy="135.4" r="2.9"/>
<circle cx="304.9" cy="144.6" r="2.9"/>
<circle cx="324.0" cy="153.0" r="2.9"/>
<circle cx="322.1" cy="161.7" r="2.9"/>
<circle cx="331.0" cy="170.9" r="2.9"/>
<circle cx="331.3" cy="179.8" r="2.9"/>
<circle cx="332.5" cy="188.7" r="2.9"/>
<circle cx="342.8" cy="198.2" r="2.9"/>
<circle cx="282.3" cy="203.0" r="2.9"/>
<circle cx="334.4" cy="212.2" r="2.9"/>
<circle cx="316.0" cy="221.5" r="2.9"/>
<circle cx="325.9" cy="230.4" r="2.9"/>
<circle cx="324.7" cy="239.6" r="2.9"/>
<circle cx="324.3" cy="248.8" r="2.9"/>
<circle cx="328.9" cy="257.8" r="2.9"/>
<circle cx="349.7" cy="262.6" r="2.9"/>
<circle cx="331.3" cy="266.9" r="2.9"/>
<circle cx="352.8" cy="271.8" r="2.9"/>
<circle cx="360.0" cy="275.9" r="2.9"/>
<circle cx="352.0" cy="280.8" r="2.9"/>
<circle cx="348.6" cy="285.3" r="2.9"/>
<circle cx="362.0" cy="289.7" r="2.9"/>
<circle cx="333.6" cy="294.4" r="2.9"/>
<circle cx="342.6" cy="294.4" r="2.9"/>
<circle cx="352.0" cy="299.5" r="2.9"/>
<circle cx="357.4" cy="303.5" r="2.9"/>
<circle cx="337.4" cy="308.8" r="2.9"/>
<circle cx="343.6" cy="317.6" r="2.9"/>
<circle cx="311.7" cy="327.8" r="2.9"/>
<circle cx="323.2" cy="328.0" r="2.9"/>
<circle cx="358.4" cy="331.8" r="2.9"/>
<circle cx="296.8" cy="340.9" r="2.9"/>
<circle cx="328.6" cy="343.3" r="2.9"/>
<circle cx="331.8" cy="349.7" r="2.9"/>
<circle cx="333.3" cy="353.3" r="2.9"/>
<circle cx="309.2" cy="357.8" r="2.9"/>
<circle cx="317.1" cy="362.5" r="2.9"/>
<circle cx="302.2" cy="366.8" r="2.9"/>
<circle cx="288.1" cy="371.6" r="2.9"/>
<circle cx="289.6" cy="380.8" r="2.9"/>
<circle cx="284.9" cy="385.2" r="2.9"/>
<circle cx="286.1" cy="389.5" r="2.9"/>
<circle cx="288.1" cy="390.3" r="2.9"/>
<circle cx="288.9" cy="395.2" r="2.9"/>
<circle cx="285.3" cy="399.5" r="2.9"/>
<circle cx="283.3" cy="403.7" r="2.9"/>
<circle cx="324.0" cy="408.2" r="2.9"/>
<circle cx="342.0" cy="410.9" r="2.9"/>
<circle cx="301.4" cy="413.6" r="2.9"/>
<circle cx="304.0" cy="413.2" r="2.9"/>
<circle cx="360.1" cy="414.5" r="2.9"/>
<circle cx="306.8" cy="419.1" r="2.9"/>
<circle cx="296.5" cy="423.5" r="2.9"/>
<circle cx="289.9" cy="428.3" r="2.9"/>
<circle cx="304.0" cy="432.8" r="2.9"/>
<circle cx="285.3" cy="437.2" r="2.9"/>
<circle cx="311.7" cy="441.8" r="2.9"/>
<circle cx="294.2" cy="447.6" r="2.9"/>
<circle cx="291.5" cy="448.7" r="2.9"/>
<circle cx="286.6" cy="450.2" r="2.9"/>
<circle cx="310.6" cy="451.5" r="2.9"/>
<circle cx="283.8" cy="456.1" r="2.9"/>
<circle cx="283.2" cy="459.8" r="2.9"/>
<circle cx="284.6" cy="461.4" r="2.9"/>
<circle cx="283.4" cy="462.8" r="2.9"/>
<circle cx="285.0" cy="464.2" r="2.9"/>
<circle cx="284.0" cy="465.6" r="2.9"/>
<circle cx="285.4" cy="467.0" r="2.9"/>
<circle cx="307.2" cy="468.6" r="2.9"/>
<circle cx="363.8" cy="469.9" r="2.9"/>
<circle cx="282.0" cy="474.5" r="2.9"/>
<circle cx="300.3" cy="478.7" r="2.9"/>
<circle cx="283.0" cy="483.3" r="2.9"/>
<circle cx="294.8" cy="487.9" r="2.9"/>
<circle cx="339.0" cy="492.4" r="2.9"/>
<circle cx="282.3" cy="496.7" r="2.9"/>
<circle cx="281.8" cy="497.3" r="2.9"/>
<circle cx="282.6" cy="502.3" r="2.9"/>
<circle cx="282.7" cy="505.1" r="2.9"/>
<circle cx="292.7" cy="506.6" r="2.9"/>
<circle cx="291.5" cy="512.0" r="2.9"/>
<circle cx="283.0" cy="514.8" r="2.9"/>
<circle cx="366.9" cy="275.6" r="2.9"/>
</g>
<g clip-path="url(#cpd)" fill="none" stroke="#2a2a2a" stroke-width="0.6"><polyline points="384.9,54.6 385.0,70.3 383.5,79.9 360.0,92.6 386.6,106.7 393.0,115.9 381.0,125.0 389.9,134.6 389.9,143.5 386.1,151.9 393.0,160.9 390.7,169.8 388.7,179.0 388.9,187.9 387.9,197.4 398.8,202.6 388.0,211.3 396.4,220.7 389.9,229.9 391.9,238.8 393.0,248.0 381.8,257.2 386.9,261.8 379.5,266.2 379.5,270.8 384.3,279.8 383.7,284.5 390.7,289.0 394.5,293.9 399.9,293.9 396.1,298.8 393.8,302.9 401.9,308.7 404.9,317.6 401.0,327.4 400.6,327.9 392.7,331.3 409.1,340.5 398.1,342.9 404.9,349.6 401.9,352.9 384.0,357.7 378.0,362.3 403.4,366.9 403.0,371.5 420.6,380.7 418.0,385.3 438.2,389.5 440.8,390.3 441.3,394.5 441.7,398.7 439.0,403.3 396.5,407.9 398.1,410.9 405.3,413.3 450.2,414.4 439.7,418.7 400.3,423.3 399.9,427.9 445.1,432.7 397.6,437.0 430.1,441.6 407.6,448.0 394.1,450.3 425.2,451.4 394.1,456.4 389.6,461.0 394.5,461.8 396.8,463.3 393.0,465.6 403.4,466.7 437.9,469.5 452.0,468.7 388.4,474.0 430.9,478.6 382.7,483.2 414.9,487.8 458.6,492.4 393.0,496.6 396.4,496.6 391.2,503.4 395.8,505.7 425.0,507.2 422.3,511.8 383.6,514.4 459.6,524.4"/></g>
<g fill="none" stroke="#2a2a2a" stroke-width="0.55">
<circle cx="384.9" cy="54.6" r="2.9"/>
<circle cx="385.0" cy="70.3" r="2.9"/>
<circle cx="383.5" cy="79.9" r="2.9"/>
<circle cx="386.6" cy="106.7" r="2.9"/>
<circle cx="393.0" cy="115.9" r="2.9"/>
<circle cx="381.0" cy="125.0" r="2.9"/>
<circle cx="389.9" cy="134.6" r="2.9"/>
<circle cx="389.9" cy="143.5" r="2.9"/>
<circle cx="386.1" cy="151.9" r="2.9"/>
<circle cx="393.0" cy="160.9" r="2.9"/>
<circle cx="390.7" cy="169.8" r="2.9"/>
<circle cx="388.7" cy="179.0" r="2.9"/>
<circle cx="388.9" cy="187.9" r="2.9"/>
<circle cx="387.9" cy="197.4" r="2.9"/>
<circle cx="398.8" cy="202.6" r="2.9"/>
<circle cx="388.0" cy="211.3" r="2.9"/>
<circle cx="396.4" cy="220.7" r="2.9"/>
<circle cx="389.9" cy="229.9" r="2.9"/>
<circle cx="391.9" cy="238.8" r="2.9"/>
<circle cx="393.0" cy="248.0" r="2.9"/>
<circle cx="381.8" cy="257.2" r="2.9"/>
<circle cx="386.9" cy="261.8" r="2.9"/>
<circle cx="379.5" cy="266.2" r="2.9"/>
<circle cx="379.5" cy="270.8" r="2.9"/>
<circle cx="384.3" cy="279.8" r="2.9"/>
<circle cx="383.7" cy="284.5" r="2.9"/>
<circle cx="390.7" cy="289.0" r="2.9"/>
<circle cx="394.5" cy="293.9" r="2.9"/>
<circle cx="399.9" cy="293.9" r="2.9"/>
<circle cx="396.1" cy="298.8" r="2.9"/>
<circle cx="393.8" cy="302.9" r="2.9"/>
<circle cx="401.9" cy="308.7" r="2.9"/>
<circle cx="404.9" cy="317.6" r="2.9"/>
<circle cx="401.0" cy="327.4" r="2.9"/>
<circle cx="400.6" cy="327.9" r="2.9"/>
<circle cx="392.7" cy="331.3" r="2.9"/>
<circle cx="409.1" cy="340.5" r="2.9"/>
<circle cx="398.1" cy="342.9" r="2.9"/>
<circle cx="404.9" cy="349.6" r="2.9"/>
<circle cx="401.9" cy="352.9" r="2.9"/>
<circle cx="384.0" cy="357.7" r="2.9"/>
<circle cx="378.0" cy="362.3" r="2.9"/>
<circle cx="403.4" cy="366.9" r="2.9"/>
<circle cx="403.0" cy="371.5" r="2.9"/>
<circle cx="420.6" cy="380.7" r="2.9"/>
<circle cx="418.0" cy="385.3" r="2.9"/>
<circle cx="438.2" cy="389.5" r="2.9"/>
<circle cx="440.8" cy="390.3" r="2.9"/>
<circle cx="441.3" cy="394.5" r="2.9"/>
<circle cx="441.7" cy="398.7" r="2.9"/>
<circle cx="439.0" cy="403.3" r="2.9"/>
<circle cx="396.5" cy="407.9" r="2.9"/>
<circle cx="398.1" cy="410.9" r="2.9"/>
<circle cx="405.3" cy="413.3" r="2.9"/>
<circle cx="450.2" cy="414.4" r="2.9"/>
<circle cx="439.7" cy="418.7" r="2.9"/>
<circle cx="400.3" cy="423.3" r="2.9"/>
<circle cx="399.9" cy="427.9" r="2.9"/>
<circle cx="445.1" cy="432.7" r="2.9"/>
<circle cx="397.6" cy="437.0" r="2.9"/>
<circle cx="430.1" cy="441.6" r="2.9"/>
<circle cx="407.6" cy="448.0" r="2.9"/>
<circle cx="394.1" cy="450.3" r="2.9"/>
<circle cx="425.2" cy="451.4" r="2.9"/>
<circle cx="394.1" cy="456.4" r="2.9"/>
<circle cx="389.6" cy="461.0" r="2.9"/>
<circle cx="394.5" cy="461.8" r="2.9"/>
<circle cx="396.8" cy="463.3" r="2.9"/>
<circle cx="393.0" cy="465.6" r="2.9"/>
<circle cx="403.4" cy="466.7" r="2.9"/>
<circle cx="437.9" cy="469.5" r="2.9"/>
<circle cx="452.0" cy="468.7" r="2.9"/>
<circle cx="388.4" cy="474.0" r="2.9"/>
<circle cx="430.9" cy="478.6" r="2.9"/>
<circle cx="382.7" cy="483.2" r="2.9"/>
<circle cx="414.9" cy="487.8" r="2.9"/>
<circle cx="458.6" cy="492.4" r="2.9"/>
<circle cx="393.0" cy="496.6" r="2.9"/>
<circle cx="396.4" cy="496.6" r="2.9"/>
<circle cx="391.2" cy="503.4" r="2.9"/>
<circle cx="395.8" cy="505.7" r="2.9"/>
<circle cx="425.0" cy="507.2" r="2.9"/>
<circle cx="422.3" cy="511.8" r="2.9"/>
<circle cx="383.6" cy="514.4" r="2.9"/>
<circle cx="459.6" cy="524.4" r="2.9"/>
</g>
<g clip-path="url(#cpe)"><polyline fill="none" stroke="#050505" stroke-width="0.75" stroke-linejoin="miter" points="516.8,73.00 512.3,73.33 516.0,73.66 522.4,73.99 518.8,74.32 522.2,74.65 521.7,74.98 518.8,75.31 519.5,75.64 520.7,75.97 523.2,76.30 518.9,76.63 517.8,76.96 521.3,77.29 523.7,77.62 521.7,77.95 514.1,78.28 525.3,78.61 522.6,78.94 526.7,79.27 526.4,79.60 526.0,79.93 526.7,80.26 524.0,80.59 526.7,80.92 520.1,81.25 521.0,81.58 518.5,81.91 518.0,82.24 519.6,82.57 521.3,82.90 515.4,83.23 519.6,83.56 519.7,83.89 519.9,84.22 515.3,84.55 517.0,84.88 513.7,85.21 522.3,85.54 515.8,85.87 515.2,86.20 518.0,86.53 518.9,86.86 522.6,87.19 521.0,87.52 516.9,87.85 521.1,88.18 517.7,88.51 521.3,88.84 526.9,89.17 526.9,89.50 522.7,89.83 518.0,90.16 521.8,90.49 518.5,90.82 521.3,91.15 518.8,91.48 516.5,91.81 515.4,92.14 520.1,92.47 519.0,92.80 519.8,93.13 520.4,93.46 522.0,93.79 518.4,94.12 519.8,94.45 524.0,94.78 521.7,95.11 520.5,95.44 518.6,95.77 515.0,96.10 518.5,96.43 518.9,96.76 520.2,97.09 514.8,97.42 522.3,97.75 522.1,98.08 517.7,98.41 521.3,98.74 520.2,99.07 522.7,99.40 515.2,99.73 521.9,100.06 520.7,100.39 516.7,100.72 519.2,101.05 523.1,101.38 518.2,101.71 518.9,102.04 527.7,102.37 521.3,102.70 523.7,103.03 516.4,103.36 516.8,103.69 521.3,104.02 516.6,104.35 516.4,104.68 517.2,105.01 519.9,105.34 516.2,105.67 520.6,106.00 518.1,106.33 526.2,106.66 517.7,106.99 516.0,107.32 517.9,107.65 516.6,107.98 518.0,108.31 518.3,108.64 516.7,108.97 518.7,109.30 518.2,109.63 524.8,109.96 525.9,110.29 522.5,110.62 519.6,110.95 520.4,111.28 521.1,111.61 516.1,111.94 519.6,112.27 532.6,112.50 513.3,112.93 515.8,113.26 516.0,113.59 513.3,113.92 519.2,114.25 513.5,114.58 518.1,114.91 518.5,115.24 521.1,115.57 521.0,115.90 516.3,116.23 515.3,116.56 515.2,116.89 526.0,117.22 524.8,117.55 522.7,117.88 519.9,118.21 518.5,118.54 520.5,118.87 521.2,119.20 516.6,119.53 524.4,119.86 523.8,120.19 522.7,120.52 520.4,120.85 518.2,121.18 519.9,121.51 526.3,121.84 526.8,122.17 528.7,122.50 528.6,122.83 525.7,123.16 522.8,123.49 524.2,123.82 517.5,124.15 521.6,124.48 523.3,124.81 521.0,125.14 526.2,125.47 520.6,125.80 514.4,126.13 513.0,126.46 515.7,126.79 519.1,127.12 520.9,127.45 523.4,127.78 521.4,128.11 521.8,128.44 524.2,128.77 519.7,129.10 522.5,129.43 517.7,129.76 523.9,130.09 523.9,130.42 524.0,130.75 526.4,131.08 527.3,131.41 521.9,131.74 528.3,132.07 525.1,132.40 520.4,132.73 521.5,133.06 523.1,133.39 522.7,133.72 525.8,134.05 525.9,134.38 526.2,134.71 527.7,135.04 523.6,135.37 523.4,135.70 519.4,136.03 525.9,136.36 519.9,136.69 526.7,137.02 521.0,137.35 524.3,137.68 521.0,138.01 525.1,138.34 522.4,138.67 522.7,139.00 525.1,139.33 525.9,139.66 521.0,139.99 520.7,140.32 522.5,140.65 522.4,140.98 520.7,141.31 517.4,141.64 518.5,141.97 517.6,142.30 518.5,142.63 520.1,142.96 520.2,143.29 517.8,143.62 520.2,143.95 521.0,144.28 521.9,144.61 521.2,144.94 520.1,145.27 519.1,145.60 520.1,145.93 520.7,146.26 519.0,146.59 519.6,146.92 517.6,147.25 518.0,147.58 518.6,147.91 518.5,148.24 518.9,148.57 519.4,148.90 517.9,149.23 516.0,149.56 519.0,149.89 518.2,150.22 518.3,150.55 520.2,150.88 524.2,151.21 523.0,151.54 522.3,151.87 520.7,152.20 529.6,152.53 523.4,152.86 523.3,153.19 523.3,153.52 524.7,153.85 520.0,154.18 524.5,154.51 525.5,154.84 521.4,155.17 522.5,155.50 519.7,155.83 525.6,156.16 524.3,156.49 525.9,156.82 523.9,157.15 523.7,157.48 521.3,157.81 523.4,158.14 520.4,158.47 521.6,158.80 520.5,159.13 517.3,159.46 519.0,159.79 522.3,160.12 523.5,160.45 525.1,160.78 525.8,161.11 529.9,161.44 523.1,161.77 516.6,162.10 517.7,162.43 521.3,162.76 525.3,163.09 528.8,163.42 521.0,163.75 528.5,164.08 533.3,164.41 526.9,164.74 524.3,165.07 521.6,165.40 529.1,165.73 528.3,166.06 526.3,166.39 519.9,166.72 523.1,167.05 530.8,167.38 532.9,167.71 523.9,168.04 528.2,168.37 530.6,168.70 528.4,169.03 532.7,169.36 527.2,169.69 528.6,170.02 524.4,170.35 520.6,170.68 526.1,171.01 531.2,171.34 520.5,171.67 522.4,172.00 529.4,172.33 523.6,172.66 523.2,172.99 527.6,173.32 528.6,173.65 532.1,173.98 521.6,174.31 520.9,174.64 519.1,174.97 520.2,175.30 524.1,175.63 527.5,175.96 518.6,176.29 522.8,176.62 531.4,176.95 531.0,177.28 526.6,177.61 526.5,177.94 525.1,178.27 526.5,178.60 526.7,178.93 526.0,179.26 518.9,179.59 532.6,179.92 525.1,180.25 525.7,180.58 521.6,180.91 534.7,181.24 525.4,181.57 515.3,181.90 524.1,182.23 528.7,182.56 526.1,182.89 533.3,183.22 529.3,183.55 514.2,183.88 522.3,184.21 511.6,184.54 525.3,184.87 523.4,185.20 517.2,185.53 525.5,185.86 514.5,186.19 514.9,186.52 514.9,186.85 520.4,187.18 528.3,187.51 527.9,187.84 516.6,188.17 515.9,188.50 516.4,188.83 521.2,189.16 514.7,189.49 520.3,189.82 535.4,190.00 524.0,190.48 526.6,190.81 519.3,191.14 522.1,191.47 520.6,191.80 520.5,192.13 520.5,192.46 518.0,192.79 521.8,193.12 515.4,193.45 518.2,193.78 518.4,194.11 518.7,194.44 509.9,194.77 509.9,195.10 519.9,195.43 526.6,195.76 524.2,196.09 524.8,196.42 527.4,196.75 522.0,197.08 518.5,197.41 516.0,197.74 511.5,198.07 525.7,198.40 521.2,198.73 519.5,199.06 525.8,199.39 522.2,199.72 518.4,200.05 514.1,200.38 515.3,200.71 518.0,201.04 521.7,201.37 515.6,201.70 519.3,202.03 513.5,202.36 517.5,202.69 505.4,203.00 521.8,203.35 520.9,203.68 522.6,204.01 517.7,204.34 519.3,204.67 523.3,205.00 519.5,205.33 516.8,205.66 516.8,205.99 518.3,206.32 511.6,206.65 511.4,206.98 509.0,207.31 509.0,207.64 511.4,207.97 516.2,208.30 515.8,208.63 519.2,208.96 511.5,209.29 510.9,209.62 511.5,209.95 514.0,210.28 513.5,210.61 519.5,210.94 515.2,211.27 514.2,211.60 519.1,211.93 515.0,212.26 511.8,212.59 521.6,212.92 517.2,213.25 515.3,213.58 517.4,213.91 518.2,214.24 519.3,214.57 519.6,214.90 514.6,215.23 519.5,215.56 517.3,215.89 514.6,216.22 519.0,216.55 515.9,216.88 516.1,217.21 520.7,217.54 517.4,217.87 515.6,218.20 514.2,218.53 513.8,218.86 510.4,219.19 513.8,219.52 511.6,219.85 512.4,220.18 516.3,220.51 510.7,220.84 517.0,221.17 514.4,221.50 521.0,221.83 517.3,222.16 513.5,222.49 513.5,222.82 516.9,223.15 518.0,223.48 519.4,223.81 522.4,224.14 522.5,224.47 513.5,224.80 513.5,225.13 513.7,225.46 514.7,225.79 517.1,226.12 513.5,226.45 514.2,226.78 518.6,227.11 515.3,227.44 512.7,227.77 517.8,228.10 519.1,228.43 517.8,228.76 519.4,229.09 518.2,229.42 513.8,229.75 523.5,230.08 517.9,230.41 522.8,230.74 521.4,231.07 518.6,231.40 520.4,231.73 520.2,232.06 513.3,232.39 518.2,232.72 516.7,233.05 521.7,233.38 516.9,233.71 517.6,234.04 521.2,234.37 522.2,234.70 520.2,235.03 516.7,235.36 512.3,235.69 516.4,236.02 515.6,236.35 513.0,236.68 511.8,237.01 515.5,237.34 513.7,237.67 515.6,238.00 516.8,238.33 515.8,238.66 513.6,238.99 509.9,239.32 518.3,239.65 521.1,239.98 514.6,240.31 510.4,240.64 517.7,240.97 517.7,241.30 514.0,241.63 517.9,241.96 511.3,242.29 518.7,242.62 518.4,242.95 517.4,243.28 514.8,243.61 509.6,243.94 513.2,244.27 513.1,244.60 514.4,244.93 512.4,245.26 509.7,245.59 515.2,245.92 509.4,246.25 509.0,246.58 509.0,246.91 509.0,247.24 519.3,247.57 525.8,248.00 511.1,248.23 515.6,248.56 512.7,248.89 518.7,249.22 518.5,249.55 519.6,249.88 515.6,250.21 521.6,250.54 520.6,250.87 520.7,251.20 516.0,251.53 517.3,251.86 514.9,252.19 518.8,252.52 516.4,252.85 519.6,253.18 522.6,253.51 521.6,253.84 516.8,254.17 520.9,254.50 519.5,254.83 516.1,255.16 519.8,255.49 522.6,255.82 519.7,256.15 519.4,256.48 521.9,256.81 521.9,257.14 520.5,257.47 522.5,257.80 522.5,258.13 519.8,258.46 519.0,258.79 513.6,259.12 519.7,259.45 518.7,259.78 518.2,260.11 511.2,260.44 513.7,260.77 516.1,261.10 509.5,261.43 512.5,261.76 514.2,262.09 518.8,262.42 514.5,262.75 518.2,263.08 520.0,263.41 517.8,263.74 522.0,264.07 519.9,264.40 518.7,264.73 518.8,265.06 522.5,265.39 522.5,265.72 521.8,266.05 521.8,266.38 514.8,266.71 522.5,267.04 518.0,267.37 519.6,267.70 518.4,268.03 515.6,268.36 515.8,268.69 511.7,269.02 512.0,269.35 511.5,269.68 510.7,270.01 513.9,270.34 515.4,270.67 522.2,271.00 516.1,271.33 516.0,271.66 521.9,271.99 522.5,272.32 522.5,272.65 522.5,272.98 519.3,273.31 510.3,273.64 518.3,273.97 521.5,274.30 514.9,274.63 513.8,274.96 513.5,275.29 514.6,275.62 518.8,275.95 515.7,276.28 511.8,276.61 517.0,276.94 518.3,277.27 516.3,277.60 512.5,277.93 519.2,278.26 518.2,278.59 519.2,278.92 517.9,279.25 518.8,279.58 520.0,279.91 517.8,280.24 517.5,280.57 516.4,280.90 519.7,281.23 515.8,281.56 521.6,281.89 519.2,282.22 518.7,282.55 515.1,282.88 516.1,283.21 516.3,283.54 508.5,283.87 511.4,284.20 509.4,284.53 517.7,284.86 514.4,285.19 510.7,285.52 511.3,285.85 515.9,286.18 518.4,286.51 516.3,286.84 514.6,287.17 515.1,287.50 518.7,287.83 515.4,288.16 512.3,288.49 514.1,288.82 515.3,289.15 513.1,289.48 515.1,289.81 514.8,290.14 508.4,290.47 512.3,290.80 510.7,291.13 513.7,291.46 516.9,291.79 512.9,292.12 509.8,292.45 511.8,292.78 510.0,293.11 508.7,293.44 508.8,293.77 512.3,294.10 518.4,294.43 516.0,294.76 515.8,295.09 515.7,295.42 508.7,295.75 512.1,296.08 514.6,296.41 511.0,296.74 514.2,297.07 512.1,297.40 509.2,297.73 512.9,298.06 513.4,298.39 516.0,298.72 512.4,299.05 517.5,299.38 515.3,299.71 511.8,300.04 513.3,300.37 508.2,300.70 509.2,301.03 508.5,301.36 513.4,301.69 512.9,302.02 516.9,302.35 511.6,302.68 513.3,303.01 510.3,303.34 511.1,303.67 511.7,304.00 511.9,304.33 507.8,304.66 509.7,304.99 507.0,305.32 509.6,305.65 516.0,305.98 512.5,306.31 516.6,306.64 512.9,306.97 513.5,307.30 516.9,307.63 514.3,307.96 508.7,308.29 510.6,308.62 513.3,308.95 515.7,309.28 512.4,309.61 510.8,309.94 513.4,310.27 512.9,310.60 516.2,310.93 516.3,311.26 515.8,311.59 512.6,311.92 516.6,312.25 510.8,312.58 509.9,312.91 508.7,313.24 511.9,313.57 511.8,313.90 511.5,314.23 508.5,314.56 508.0,314.89 509.6,315.22 511.2,315.55 511.9,315.88 510.8,316.21 508.3,316.54 508.4,316.87 510.6,317.20 510.6,317.53 513.0,317.86 511.0,318.19 508.7,318.52 514.1,318.85 512.4,319.18 516.6,319.51 513.0,319.84 511.9,320.17 517.4,320.50 520.8,320.83 515.7,321.16 514.4,321.49 512.8,321.82 516.4,322.15 518.6,322.48 514.8,322.81 512.1,323.14 517.4,323.47 518.2,323.80 513.8,324.13 513.0,324.46 513.3,324.79 511.8,325.12 514.4,325.45 512.3,325.78 515.3,326.11 516.7,326.44 517.8,326.77 517.4,327.10 519.9,327.43 519.8,327.76 518.1,328.09 519.2,328.42 514.4,328.75 516.4,329.08 519.6,329.41 516.0,329.74 517.1,330.07 519.2,330.40 515.4,330.73 517.3,331.06 518.4,331.39 519.5,331.72 521.6,332.05 521.9,332.38 517.7,332.71 516.4,333.04 522.7,333.37 517.8,333.70 511.2,334.03 514.9,334.36 515.4,334.69 515.4,335.02 524.1,335.35 528.1,335.68 527.2,336.01 525.5,336.34 530.8,336.67 520.9,337.00 531.7,337.33 534.4,337.66 528.2,337.99 529.5,338.32 532.5,338.65 527.7,338.98 529.5,339.31 583.0,339.60 528.7,339.97 530.2,340.30 523.8,340.63 525.3,340.96 524.0,341.29 518.1,341.62 521.5,341.95 524.8,342.28 555.5,342.50 518.4,342.94 523.6,343.27 518.6,343.60 518.7,343.93 531.1,344.26 533.0,344.59 537.7,344.92 536.1,345.25 534.6,345.58 540.3,345.91 526.7,346.24 538.3,346.57 531.7,346.90 521.9,347.23 530.4,347.56 572.0,348.00 531.0,348.22 529.8,348.55 530.8,348.88 531.7,349.21 530.7,349.54 532.3,349.87 527.6,350.20 529.4,350.53 517.8,350.86 515.7,351.19 516.0,351.52 519.2,351.85 528.5,352.18 528.0,352.51 528.6,352.84 532.0,353.17 536.0,353.50 531.8,353.83 523.8,354.16 522.5,354.49 522.5,354.82 535.0,355.15 529.1,355.48 526.6,355.81 515.8,356.14 522.5,356.47 519.2,356.80 536.0,357.13 528.2,357.46 521.6,357.79 523.5,358.12 528.7,358.45 530.6,358.78 524.2,359.11 527.4,359.44 527.4,359.77 530.3,360.10 523.1,360.43 526.3,360.76 510.5,361.00 531.5,361.42 528.0,361.75 531.6,362.08 525.7,362.41 527.2,362.74 552.5,363.00 519.9,363.40 527.9,363.73 524.5,364.06 526.2,364.39 527.8,364.72 526.2,365.05 529.1,365.38 527.5,365.71 531.1,366.04 526.3,366.37 523.8,366.70 554.4,367.00 528.7,367.36 523.2,367.69 516.2,368.02 530.8,368.35 529.8,368.68 524.7,369.01 525.4,369.34 525.6,369.67 556.6,370.00 522.5,370.33 525.1,370.66 524.9,370.99 524.2,371.32 528.6,371.65 531.2,371.98 530.0,372.31 538.8,372.64 535.2,372.97 514.9,373.30 525.3,373.63 516.8,373.96 515.6,374.29 520.9,374.62 517.1,374.95 522.2,375.28 523.0,375.61 516.5,375.94 513.8,376.27 511.4,376.60 510.0,376.93 511.5,377.26 511.0,377.59 515.7,377.92 513.0,378.25 512.0,378.58 492.0,379.00 507.0,379.24 510.4,379.57 513.8,379.90 509.2,380.23 505.9,380.56 512.7,380.89 508.0,381.22 510.2,381.55 515.4,381.88 514.8,382.21 511.9,382.54 515.5,382.87 509.7,383.20 514.0,383.53 515.1,383.86 510.5,384.19 512.3,384.52 510.6,384.85 515.1,385.18 508.2,385.51 511.7,385.84 508.0,386.17 509.6,386.50 506.4,386.83 512.5,387.16 511.9,387.49 517.3,387.82 513.4,388.15 514.7,388.48 514.1,388.81 516.2,389.14 513.9,389.47 512.7,389.80 514.1,390.13 492.0,390.30 510.2,390.79 510.5,391.12 514.3,391.45 510.4,391.78 513.3,392.11 512.0,392.44 513.5,392.77 513.1,393.10 511.3,393.43 514.2,393.76 515.5,394.09 515.4,394.42 511.3,394.75 513.3,395.08 505.4,395.41 513.7,395.74 511.4,396.07 514.1,396.40 512.6,396.73 513.2,397.06 510.8,397.39 509.6,397.72 515.1,398.05 513.6,398.38 509.8,398.71 506.6,399.04 514.4,399.37 509.3,399.70 507.9,400.03 514.0,400.36 514.9,400.69 515.5,401.02 512.4,401.35 509.3,401.68 504.3,402.01 508.7,402.34 509.2,402.67 512.5,403.00 514.6,403.33 520.6,403.66 513.1,403.99 514.5,404.32 513.8,404.65 517.0,404.98 523.1,405.31 527.9,405.64 525.6,405.97 538.4,406.30 550.4,406.50 526.0,406.96 524.4,407.29 534.5,407.62 531.6,407.95 523.3,408.28 527.4,408.61 525.9,408.94 530.3,409.27 530.8,409.60 527.4,409.93 530.5,410.26 531.3,410.59 520.8,410.92 526.9,411.25 525.1,411.58 530.4,411.91 530.1,412.24 523.0,412.57 513.5,412.90 529.9,413.23 518.0,413.56 520.1,413.89 525.7,414.22 531.5,414.55 523.3,414.88 524.5,415.21 525.9,415.54 522.8,415.87 524.6,416.20 524.5,416.53 545.0,417.00 528.7,417.19 525.5,417.52 522.0,417.85 520.3,418.18 515.3,418.51 506.5,419.00 511.5,419.17 522.2,419.50 518.5,419.83 528.9,420.16 518.2,420.49 527.9,420.82 511.8,421.15 517.0,421.48 516.9,421.81 518.1,422.14 510.1,422.47 521.0,422.80 507.9,423.13 513.5,423.46 524.5,423.79 522.4,424.12 518.6,424.45 515.6,424.78 544.3,425.00 519.6,425.44 517.7,425.77 526.4,426.10 529.9,426.43 527.8,426.76 519.9,427.09 526.9,427.42 523.8,427.75 528.7,428.08 524.8,428.41 527.5,428.74 530.9,429.07 525.5,429.40 525.2,429.73 527.5,430.06 529.8,430.39 520.8,430.72 521.3,431.05 533.4,431.38 528.2,431.71 528.1,432.04 523.4,432.37 523.3,432.70 520.3,433.03 516.8,433.36 518.1,433.69 506.5,434.00 538.1,434.35 536.4,434.68 537.7,435.01 527.4,435.34 528.5,435.67 552.5,436.00 537.2,436.33 522.8,436.66 531.5,436.99 524.4,437.32 524.7,437.65 517.8,437.98 531.5,438.31 536.4,438.64 529.5,438.97 521.5,439.30 523.0,439.63 506.5,440.00 522.6,440.29 515.6,440.62 511.9,440.95 519.1,441.28 521.7,441.61 527.6,441.94 522.7,442.27 522.1,442.60 523.1,442.93 517.6,443.26 516.5,443.59 510.9,443.92 542.2,444.25 533.8,444.58 529.2,444.91 528.3,445.24 520.7,445.57 527.5,445.90 530.5,446.23 520.1,446.56 519.1,446.89 523.3,447.22 522.6,447.55 512.6,447.88 511.6,448.21 519.7,448.54 551.4,449.00 527.2,449.20 523.4,449.53 518.5,449.86 511.2,450.19 523.9,450.52 520.8,450.85 515.2,451.18 517.9,451.51 518.3,451.84 533.5,452.17 520.7,452.50 519.7,452.83 520.0,453.16 515.6,453.49 529.0,453.82 528.3,454.15 540.1,454.48 527.0,454.81 550.4,455.00 526.5,455.47 524.9,455.80 534.1,456.13 519.2,456.46 515.3,456.79 520.4,457.12 526.7,457.45 530.6,457.78 528.4,458.11 527.6,458.44 531.4,458.77 534.7,459.10 532.6,459.43 532.5,459.76 530.6,460.09 534.0,460.42 519.4,460.75 524.4,461.08 533.0,461.41 525.2,461.74 513.0,462.07 530.3,462.40 517.2,462.73 509.5,463.00 524.9,463.39 533.5,463.72 530.4,464.05 518.0,464.38 524.9,464.71 523.6,465.04 521.4,465.37 520.3,465.70 520.7,466.03 531.7,466.36 526.4,466.69 524.5,467.02 523.9,467.35 525.2,467.68 529.1,468.01 526.2,468.34 526.3,468.67 521.7,469.00 520.4,469.33 526.0,469.66 525.2,469.99 523.4,470.32 526.9,470.65 547.4,471.00 521.5,471.31 522.0,471.64 521.6,471.97 533.5,472.30 531.1,472.63 518.9,472.96 519.3,473.29 524.2,473.62 521.4,473.95 519.4,474.28 522.6,474.61 527.8,474.94 523.0,475.27 528.1,475.60 528.2,475.93 492.0,476.40 509.9,476.59 513.1,476.92 512.6,477.25 509.8,477.58 518.5,477.91 523.1,478.24 513.9,478.57 502.8,478.90 502.7,479.23 516.6,479.56 517.7,479.89 515.8,480.22 508.3,480.55 514.6,480.88 512.7,481.21 514.5,481.54 505.7,481.87 520.8,482.20 512.5,482.53 515.2,482.86 507.4,483.19 515.4,483.52 508.3,483.85 520.4,484.18 514.3,484.51 520.3,484.84 509.8,485.17 508.0,485.50 515.5,485.83 512.7,486.16 517.7,486.49 509.3,486.82 502.4,487.00 506.5,487.48 508.4,487.81 501.2,488.14 511.0,488.47 509.5,488.80 512.4,489.13 508.4,489.46 523.3,489.79 517.2,490.12 513.9,490.45 512.2,490.78 518.7,491.11 509.9,491.44 522.1,491.77 521.8,492.10 526.3,492.43 521.0,492.76 520.9,493.09 519.6,493.42 523.6,493.75 519.3,494.08 518.3,494.41 516.1,494.74 520.5,495.07 518.6,495.40 512.4,495.73 518.1,496.06 521.7,496.39 521.1,496.72 516.6,497.05 524.8,497.38 522.4,497.71 521.8,498.04 521.0,498.37 525.5,498.70 525.5,499.03 517.8,499.36 516.3,499.69 528.2,500.02 518.6,500.35 524.5,500.68 521.5,501.01 525.7,501.34 522.0,501.67 523.4,502.00 519.3,502.33 523.7,502.66 541.0,503.00 526.7,503.32 528.4,503.65 527.8,503.98 523.5,504.31 518.8,504.64 521.1,504.97 521.7,505.30 526.6,505.63 526.9,505.96 523.2,506.29 522.8,506.62 527.5,506.95 527.4,507.28 527.3,507.61 522.6,507.94 522.6,508.27 519.6,508.60 517.1,508.93 522.8,509.26 525.3,509.59 521.4,509.92 522.9,510.25 516.8,510.58 511.5,510.91 518.1,511.24 516.0,511.57 516.2,511.90 515.6,512.23 514.5,512.56 518.2,512.89 514.1,513.22 518.2,513.55 517.8,513.88 517.4,514.21 512.8,514.54 511.8,514.87 513.6,515.20 512.8,515.53 521.3,515.86 513.7,516.19 513.6,516.52 518.6,516.85 512.5,517.18 515.6,517.51 508.4,517.84 514.3,518.17 509.3,518.50 506.6,518.83 516.8,519.16 513.1,519.49 506.3,519.82 507.0,520.15 511.4,520.48 514.9,520.81 517.3,521.14 513.0,521.47 513.5,521.80 513.7,522.13 512.9,522.46 519.1,522.79 521.1,523.12 515.0,523.45 514.2,523.78 507.5,524.11 515.6,524.44 521.6,524.77 514.6,525.10 512.5,525.43 511.4,525.76 513.8,526.09 519.7,526.42 513.2,526.75 518.8,527.08 511.3,527.41 512.1,527.74 509.9,528.07 518.6,528.40 507.4,528.73 515.1,529.06 516.8,529.39 514.8,529.72 515.0,530.05 508.2,530.38 508.0,530.71 507.4,531.04 538.6,531.40 513.9,531.70 510.2,532.03 514.3,532.36 510.8,532.69 505.2,533.02 504.1,533.35 515.5,533.68 503.2,534.01 507.2,534.34 506.3,534.67 507.4,535.00 510.8,535.33 503.5,535.66 507.0,535.99 508.5,536.32 510.5,536.65 504.5,536.98 509.9,537.31 515.5,537.64 500.7,537.97 507.0,538.30 510.0,538.63 505.4,538.96 508.5,539.29 504.4,539.62 504.2,539.95 509.4,540.28 510.2,540.61 500.0,540.94 500.5,541.27 511.3,541.60 505.5,541.93 508.6,542.26 515.6,542.59 506.8,542.92 517.1,543.25 517.5,543.58 516.4,543.91 512.1,544.24 511.1,544.57 510.0,544.90 515.2,545.23 499.3,545.50 510.5,545.89 508.7,546.22 503.4,546.55 505.1,546.88 505.2,547.21 509.3,547.54 514.4,547.87 517.6,548.20 513.5,548.53 514.4,548.86 511.4,549.19 518.8,549.52 512.2,549.85 516.5,550.18 511.8,550.51 506.9,550.84 513.0,551.17 513.1,551.50 519.2,551.83 518.0,552.16 516.1,552.49 516.2,552.82 514.4,553.15 512.9,553.48 521.3,553.81 519.8,554.14 513.2,554.47 507.5,554.80 511.9,555.13"/></g>
<polyline fill="none" stroke="#0c0c0c" stroke-width="0.7" stroke-linejoin="round" points="596.8,73.00 596.2,73.60 596.6,74.20 596.0,74.80 596.2,75.40 596.4,76.00 596.2,76.60 596.3,77.20 596.2,77.80 596.3,78.40 596.4,79.00 596.3,79.60 596.5,80.20 596.2,80.80 596.1,81.40 596.2,82.00 596.4,82.60 596.2,83.20 596.2,83.80 596.4,84.40 596.2,85.00 596.3,85.60 596.1,86.20 596.1,86.80 596.6,87.40 596.2,88.00 596.1,88.60 596.1,89.20 596.2,89.80 596.2,90.40 596.3,91.00 596.1,91.60 596.2,92.20 596.2,92.80 596.1,93.40 596.1,94.00 596.4,94.60 596.1,95.20 596.5,95.80 596.3,96.40 596.3,97.00 596.1,97.60 596.5,98.20 596.3,98.80 596.3,99.40 596.2,100.00 596.1,100.60 596.3,101.20 596.3,101.80 596.3,102.40 596.1,103.00 596.6,103.60 596.3,104.20 596.3,104.80 596.3,105.40 596.4,106.00 596.3,106.60 596.1,107.20 596.6,107.80 596.1,108.40 596.4,109.00 596.5,109.60 596.0,110.20 596.2,110.80 596.1,111.40 596.3,112.00 596.1,112.60 596.1,113.20 596.1,113.80 596.4,114.40 596.2,115.00 596.1,115.60 596.3,116.20 596.3,116.80 596.2,117.40 596.7,118.00 596.3,118.60 596.4,119.20 596.1,119.80 596.3,120.40 596.2,121.00 596.2,121.60 596.3,122.20 596.1,122.80 596.1,123.40 596.0,124.00 596.3,124.60 596.2,125.20 596.1,125.80 596.0,126.40 596.1,127.00 596.1,127.60 596.4,128.20 596.4,128.80 596.4,129.40 596.4,130.00 596.5,130.60 596.0,131.20 596.3,131.80 596.3,132.40 596.7,133.00 596.4,133.60 596.3,134.20 596.4,134.80 596.0,135.40 596.6,136.00 596.4,136.60 596.4,137.20 596.1,137.80 596.3,138.40 596.3,139.00 596.3,139.60 596.1,140.20 596.3,140.80 596.2,141.40 596.2,142.00 596.2,142.60 596.6,143.20 595.9,143.80 596.4,144.40 596.1,145.00 596.2,145.60 596.4,146.20 596.3,146.80 596.1,147.40 596.2,148.00 596.2,148.60 596.2,149.20 596.7,149.80 596.4,150.40 596.1,151.00 596.5,151.60 596.4,152.20 596.5,152.80 596.5,153.40 596.3,154.00 596.2,154.60 596.1,155.20 596.4,155.80 596.1,156.40 596.2,157.00 596.1,157.60 596.4,158.20 596.5,158.80 596.4,159.40 596.2,160.00 596.5,160.60 596.6,161.20 596.1,161.80 596.2,162.40 596.3,163.00 596.1,163.60 596.4,164.20 596.2,164.80 596.3,165.40 596.3,166.00 596.4,166.60 596.3,167.20 596.5,167.80 596.4,168.40 596.5,169.00 596.1,169.60 596.5,170.20 596.6,170.80 596.7,171.40 596.6,172.00 596.7,172.60 596.9,173.20 596.4,173.80 596.7,174.40 596.6,175.00 595.1,175.60 597.3,176.20 597.1,176.80 598.4,177.40 596.5,178.00 598.5,178.60 598.5,179.20 599.9,179.80 598.6,180.40 595.6,181.00 601.4,181.60 596.6,182.20 598.2,182.80 597.9,183.40 599.4,184.00 595.0,184.60 599.4,185.20 596.3,185.80 596.5,186.40 596.2,187.00 601.0,187.60 598.9,188.20 595.7,188.80 597.5,189.40 596.0,190.00 595.7,190.60 597.0,191.20 596.7,191.80 596.1,192.40 598.2,193.00 599.7,193.60 597.1,194.20 597.8,194.80 596.2,195.40 599.5,196.00 596.3,196.60 596.5,197.20 596.7,197.80 596.4,198.40 596.9,199.00 596.3,199.60 596.5,200.20 597.5,200.80 596.6,201.40 597.2,202.00 597.1,202.60 596.8,203.20 596.8,203.80 596.1,204.40 597.1,205.00 598.4,205.60 596.9,206.20 597.2,206.80 597.3,207.40 596.1,208.00 596.8,208.60 597.0,209.20 596.0,209.80 598.2,210.40 597.2,211.00 597.3,211.60 596.5,212.20 597.1,212.80 596.5,213.40 596.4,214.00 597.6,214.60 598.3,215.20 598.5,215.80 596.5,216.40 596.8,217.00 597.1,217.60 596.4,218.20 596.1,218.80 597.7,219.40 597.1,220.00 597.7,220.60 597.0,221.20 596.8,221.80 597.6,222.40 597.3,223.00 596.9,223.60 597.1,224.20 596.9,224.80 596.1,225.40 596.0,226.00 595.9,226.60 596.6,227.20 596.6,227.80 596.2,228.40 597.7,229.00 597.3,229.60 598.3,230.20 595.9,230.80 599.1,231.40 596.6,232.00 595.0,232.60 597.2,233.20 597.8,233.80 596.3,234.40 597.4,235.00 596.7,235.60 597.9,236.20 597.2,236.80 596.5,237.40 596.6,238.00 597.6,238.60 598.0,239.20 596.8,239.80 596.7,240.40 597.1,241.00 596.5,241.60 598.9,242.20 597.6,242.80 597.1,243.40 597.8,244.00 597.4,244.60 596.1,245.20 596.0,245.80 597.4,246.40 596.7,247.00 596.5,247.60 596.6,248.20 597.7,248.80 599.5,249.40 596.2,250.00 596.8,250.60 596.3,251.20 596.2,251.80 596.8,252.40 597.2,253.00 597.0,253.60 596.6,254.20 596.5,254.80 597.5,255.40 597.6,256.00 596.2,256.60 597.7,257.20 597.1,257.80 597.7,258.40 596.7,259.00 598.8,259.60 597.3,260.20 598.0,260.80 598.6,261.40 595.7,262.00 596.5,262.60 597.0,263.20 596.3,263.80 598.2,264.40 598.0,265.00 597.2,265.60 596.7,266.75 597.9,267.20 606.8,267.50 598.0,267.80 596.8,268.25 596.6,269.20 596.9,269.80 597.3,270.40 596.7,271.00 596.7,271.60 596.8,272.20 597.2,272.80 596.5,273.40 596.5,274.00 596.4,274.60 596.3,275.20 596.7,275.80 597.1,276.40 596.5,277.00 596.7,277.60 596.9,278.20 597.0,278.80 596.9,279.40 596.5,280.00 596.5,280.60 596.5,281.20 596.6,281.80 596.1,282.40 596.0,283.00 596.3,283.60 596.5,284.20 596.6,284.80 596.7,285.40 596.2,286.00 597.2,286.60 597.6,287.20 596.9,287.80 596.4,288.40 597.6,289.00 597.2,289.60 597.0,290.20 597.1,290.80 597.0,291.40 597.4,292.00 596.1,292.60 596.7,293.20 597.4,293.80 596.8,294.40 596.5,295.00 597.5,295.60 596.9,296.20 596.7,296.80 596.8,297.40 596.5,298.00 596.3,298.60 596.6,299.20 596.6,299.80 596.3,300.40 596.4,301.00 597.3,301.60 596.8,302.20 597.0,302.80 596.7,303.40 596.2,304.00 597.1,304.60 597.3,305.20 597.3,305.80 596.7,306.40 596.7,307.00 596.8,307.60 596.9,308.20 596.4,308.80 596.6,309.40 596.4,310.00 596.2,310.60 596.5,311.20 596.5,311.80 596.5,312.40 597.1,313.00 597.0,313.60 596.5,314.20 596.6,314.80 596.4,315.40 596.5,316.00 596.6,316.60 596.6,317.20 596.9,317.80 596.8,318.40 596.7,319.00 596.3,319.60 596.4,320.20 597.0,320.80 597.0,321.40 596.8,322.00 596.2,322.60 596.6,323.20 596.9,323.80 596.8,324.40 596.5,325.00 596.5,325.60 598.5,326.20 596.3,326.80 598.3,327.40 597.4,328.00 597.0,328.60 596.2,329.20 596.5,329.80 597.2,330.40 596.8,331.00 595.5,331.60 597.1,332.20 599.5,332.80 597.6,333.40 596.8,334.65 598.2,335.10 609.5,335.40 598.4,336.55 598.8,337.00 613.6,337.30 599.0,337.60 597.1,338.05 598.7,338.80 596.2,339.40 596.7,340.00 597.2,340.60 596.3,341.20 596.4,341.80 596.9,342.40 596.0,343.00 596.7,343.60 596.5,344.20 596.3,344.80 597.4,345.40 597.4,346.00 596.4,346.60 596.6,347.20 596.3,347.80 596.3,348.40 597.7,349.00 596.4,349.60 596.5,350.20 596.8,350.80 596.9,351.40 596.3,352.00 597.1,352.60 596.6,353.20 597.1,353.80 597.2,354.40 596.3,355.00 596.8,355.60 597.5,356.20 596.5,356.80 597.5,357.40 597.7,358.00 596.5,358.60 596.5,359.20 596.1,359.80 596.6,360.40 597.0,361.25 599.4,361.70 617.7,362.00 599.6,362.30 597.3,362.75 596.4,364.00 597.0,364.60 596.4,365.20 597.0,365.80 596.8,366.40 596.8,367.00 597.0,367.60 597.1,368.20 596.6,368.80 596.9,369.40 596.6,370.00 597.6,370.60 597.5,371.20 597.0,371.80 596.4,372.40 596.6,373.00 596.8,373.60 596.9,374.20 596.9,374.80 596.6,375.40 597.2,376.00 596.5,376.60 597.2,377.20 598.0,377.80 596.7,378.40 597.2,379.00 596.4,379.60 596.6,380.20 596.3,380.80 597.3,381.40 596.8,382.00 596.3,382.60 597.2,383.20 596.4,383.80 596.7,384.40 598.0,385.00 596.8,385.60 596.6,386.20 597.6,386.80 596.1,387.40 596.7,388.00 596.6,388.60 596.6,389.20 596.5,389.80 596.7,390.40 596.5,391.00 596.6,391.60 596.5,392.20 597.1,392.80 596.8,393.40 596.7,394.00 596.6,394.60 597.1,395.20 596.5,395.80 596.9,396.40 596.4,397.00 596.4,397.60 596.7,398.20 597.0,398.80 596.9,399.40 596.5,400.00 596.5,400.60 596.8,401.20 596.6,401.80 596.5,402.40 597.7,403.45 602.4,403.90 639.6,404.20 602.9,404.50 598.1,404.95 596.7,406.00 596.6,406.60 598.3,407.75 605.3,408.20 659.8,408.50 605.9,408.80 598.9,409.25 596.4,410.20 596.5,410.80 596.4,411.40 596.4,412.00 596.6,412.60 596.5,413.20 596.6,413.80 596.4,414.40 597.5,415.45 601.6,415.90 633.4,416.20 601.9,416.50 597.9,416.95 596.8,418.00 596.2,418.60 598.5,419.20 598.1,419.80 597.1,420.40 595.9,421.00 597.8,421.60 599.3,422.20 599.0,422.80 598.0,423.40 601.3,424.00 597.6,424.60 596.7,425.20 596.7,425.80 596.9,426.40 597.8,427.00 596.1,427.60 598.1,428.20 596.8,428.80 595.6,429.40 599.5,430.00 597.7,430.60 596.7,431.20 597.0,431.80 596.5,432.40 597.0,433.45 599.4,433.90 617.7,434.20 599.6,435.05 603.3,435.50 645.5,435.80 603.8,436.10 598.4,436.55 596.7,437.80 596.4,438.40 596.5,439.00 596.6,439.60 596.2,440.20 599.0,440.80 596.1,441.40 596.4,442.00 597.4,443.25 600.9,443.70 628.5,444.00 601.2,444.30 597.7,444.75 596.2,445.60 596.5,446.20 597.2,446.80 596.5,447.40 596.4,448.00 596.6,448.60 596.5,449.20 595.5,449.80 596.6,450.40 597.1,451.00 596.8,451.60 596.5,452.20 596.6,452.80 596.5,453.40 596.4,454.00 596.5,454.60 596.8,455.20 596.5,455.80 596.3,456.40 596.6,457.00 596.4,457.60 596.7,458.20 596.4,458.80 596.5,459.40 596.6,460.00 596.6,460.60 596.6,461.20 596.4,461.80 596.5,462.40 596.7,463.00 596.5,463.60 596.7,464.20 596.7,464.80 596.6,465.40 596.7,466.00 596.4,466.60 596.5,467.20 596.5,467.80 596.4,468.40 596.5,469.00 596.7,469.60 596.8,470.20 596.7,470.80 596.9,471.40 596.4,472.00 596.5,472.60 596.7,473.20 596.8,473.80 596.9,474.40 596.8,475.00 596.7,475.60 596.7,476.20 596.4,476.80 596.8,477.40 596.5,478.00 596.5,478.60 596.4,479.20 596.6,479.80 596.3,480.40 597.0,481.00 596.4,481.60 596.7,482.20 596.9,482.80 596.6,483.40 596.5,484.00 596.7,484.60 596.4,485.20 596.7,485.80 596.8,486.40 596.8,487.00 596.6,487.60 597.0,488.20 596.6,488.80 596.5,489.40 596.6,490.00 596.7,490.60 596.9,491.20 597.0,492.25 599.4,492.70 617.7,493.00 599.6,493.30 597.3,493.75 596.4,494.80 596.9,495.40 596.7,496.00 596.6,496.60 596.6,497.20 596.6,497.80 596.4,498.40 596.5,499.00 596.7,499.60 596.6,500.20 596.5,500.80 596.4,501.40 597.0,502.00 596.3,502.60 596.6,503.20 596.4,503.80 596.5,504.40 596.8,505.00 596.4,505.60 596.6,506.20 596.4,506.80 596.7,507.40 596.8,508.00 596.5,508.60 597.0,509.20 596.8,509.80 596.5,510.40 596.5,511.00 596.6,511.60 596.4,512.20 596.6,512.80 596.5,513.40 596.7,514.00 596.5,514.60 596.6,515.20 596.4,515.80 596.5,516.40 596.7,517.00 596.7,517.60 596.8,518.20 596.4,518.80 596.5,519.40 596.4,520.00 596.5,520.60 596.8,521.20 596.5,521.80 596.5,522.40 596.4,523.00 596.6,523.60 596.3,524.20 596.5,524.80 596.4,525.40 596.6,526.00 596.4,526.60 596.7,527.20 596.8,527.80 596.5,528.40 596.4,529.00 596.6,529.60 596.4,530.20 596.4,530.80 596.6,531.40 596.6,532.00 596.5,532.60 596.5,533.20 596.5,533.80 596.5,534.40 596.4,535.00 596.5,535.60 596.5,536.20 596.5,536.80 597.1,537.40 596.6,538.00 596.8,538.60 596.5,539.20 596.8,539.80 597.0,540.40 596.6,541.00 596.7,541.60 596.5,542.20 596.4,542.80 596.8,543.40 597.1,544.25 598.8,544.70 613.8,545.00 599.0,545.30 597.1,545.75 596.3,547.00 596.5,547.60 596.6,548.20 596.6,548.80 596.5,549.40 596.4,550.00 596.6,550.60 596.4,551.20 596.5,551.80 596.6,552.40 596.9,553.00 596.8,553.60 596.4,554.20 596.6,554.80"/>
</svg></body></html>
